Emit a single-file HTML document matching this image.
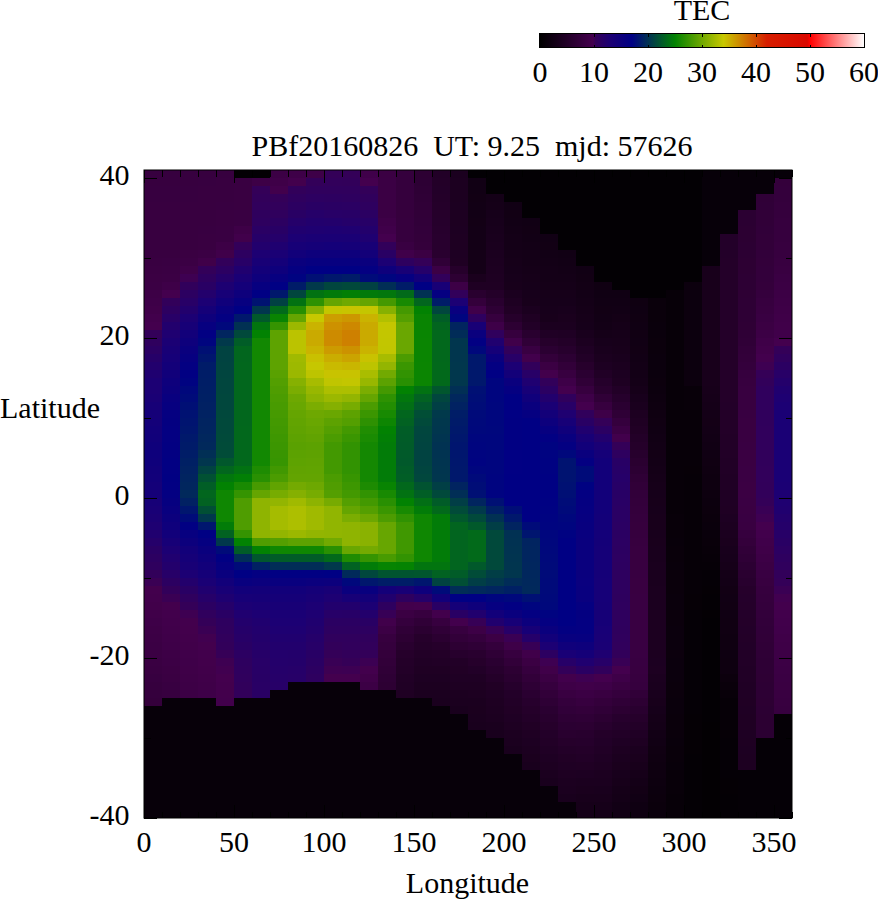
<!DOCTYPE html>
<html><head><meta charset="utf-8"><title>TEC map</title>
<style>
html,body{margin:0;padding:0;background:#fff;}
body{width:878px;height:900px;overflow:hidden;font-family:"Liberation Serif",serif;}
svg{display:block;}
text{font-family:"Liberation Serif",serif;font-size:30px;fill:#000;}
</style></head><body>
<svg width="878" height="900" viewBox="0 0 878 900">
<defs><linearGradient id="cb" x1="0" y1="0" x2="1" y2="0"><stop offset="0.0000" stop-color="#000000"/><stop offset="0.0833" stop-color="#220027"/><stop offset="0.1633" stop-color="#44004e"/><stop offset="0.1717" stop-color="#340058"/><stop offset="0.2167" stop-color="#1c0074"/><stop offset="0.2833" stop-color="#000084"/><stop offset="0.4167" stop-color="#028202"/><stop offset="0.5667" stop-color="#c8c800"/><stop offset="0.7000" stop-color="#d61e00"/><stop offset="0.8250" stop-color="#da0800"/><stop offset="0.8333" stop-color="#ff0000"/><stop offset="1.0000" stop-color="#ffffff"/></linearGradient></defs>
<rect x="0" y="0" width="878" height="900" fill="#fff"/>
<g shape-rendering="crispEdges">
<rect x="144" y="170.00" width="18.5" height="16.50" fill="#37003f"/>
<rect x="144" y="186.00" width="18.5" height="16.50" fill="#370040"/>
<rect x="144" y="202.00" width="18.5" height="56.50" fill="#380040"/>
<rect x="144" y="258.00" width="18.5" height="8.50" fill="#390041"/>
<rect x="144" y="266.00" width="18.5" height="8.50" fill="#3a0042"/>
<rect x="144" y="274.00" width="18.5" height="8.50" fill="#3b0043"/>
<rect x="144" y="282.00" width="18.5" height="8.50" fill="#3b0044"/>
<rect x="144" y="290.00" width="18.5" height="8.50" fill="#3d0046"/>
<rect x="144" y="298.00" width="18.5" height="8.50" fill="#3e0048"/>
<rect x="144" y="306.00" width="18.5" height="8.50" fill="#400049"/>
<rect x="144" y="314.00" width="18.5" height="8.50" fill="#42004c"/>
<rect x="144" y="322.00" width="18.5" height="8.50" fill="#44004e"/>
<rect x="144" y="330.00" width="18.5" height="8.50" fill="#330059"/>
<rect x="144" y="338.00" width="18.5" height="8.50" fill="#2f005e"/>
<rect x="144" y="346.00" width="18.5" height="8.50" fill="#2b0063"/>
<rect x="144" y="354.00" width="18.5" height="8.50" fill="#260068"/>
<rect x="144" y="362.00" width="18.5" height="8.50" fill="#22006d"/>
<rect x="144" y="370.00" width="18.5" height="8.50" fill="#1f0070"/>
<rect x="144" y="378.00" width="18.5" height="16.50" fill="#1c0074"/>
<rect x="144" y="394.00" width="18.5" height="8.50" fill="#1a0075"/>
<rect x="144" y="402.00" width="18.5" height="8.50" fill="#170077"/>
<rect x="144" y="410.00" width="18.5" height="8.50" fill="#150078"/>
<rect x="144" y="418.00" width="18.5" height="8.50" fill="#140079"/>
<rect x="144" y="426.00" width="18.5" height="8.50" fill="#12007a"/>
<rect x="144" y="434.00" width="18.5" height="8.50" fill="#11007a"/>
<rect x="144" y="442.00" width="18.5" height="8.50" fill="#0f007b"/>
<rect x="144" y="450.00" width="18.5" height="8.50" fill="#0e007c"/>
<rect x="144" y="458.00" width="18.5" height="8.50" fill="#0f007b"/>
<rect x="144" y="466.00" width="18.5" height="8.50" fill="#11007a"/>
<rect x="144" y="474.00" width="18.5" height="8.50" fill="#12007a"/>
<rect x="144" y="482.00" width="18.5" height="8.50" fill="#140079"/>
<rect x="144" y="490.00" width="18.5" height="8.50" fill="#150078"/>
<rect x="144" y="498.00" width="18.5" height="8.50" fill="#170077"/>
<rect x="144" y="506.00" width="18.5" height="8.50" fill="#190076"/>
<rect x="144" y="514.00" width="18.5" height="8.50" fill="#1b0074"/>
<rect x="144" y="522.00" width="18.5" height="8.50" fill="#1e0072"/>
<rect x="144" y="530.00" width="18.5" height="8.50" fill="#20006f"/>
<rect x="144" y="538.00" width="18.5" height="8.50" fill="#25006a"/>
<rect x="144" y="546.00" width="18.5" height="8.50" fill="#290064"/>
<rect x="144" y="554.00" width="18.5" height="8.50" fill="#2c0061"/>
<rect x="144" y="562.00" width="18.5" height="8.50" fill="#2f005e"/>
<rect x="144" y="570.00" width="18.5" height="8.50" fill="#32005a"/>
<rect x="144" y="578.00" width="18.5" height="8.50" fill="#3a0054"/>
<rect x="144" y="586.00" width="18.5" height="8.50" fill="#43004d"/>
<rect x="144" y="594.00" width="18.5" height="8.50" fill="#42004c"/>
<rect x="144" y="602.00" width="18.5" height="8.50" fill="#41004a"/>
<rect x="144" y="610.00" width="18.5" height="8.50" fill="#400049"/>
<rect x="144" y="618.00" width="18.5" height="8.50" fill="#3e0048"/>
<rect x="144" y="626.00" width="18.5" height="8.50" fill="#3d0046"/>
<rect x="144" y="634.00" width="18.5" height="8.50" fill="#3c0045"/>
<rect x="144" y="642.00" width="18.5" height="8.50" fill="#3b0044"/>
<rect x="144" y="650.00" width="18.5" height="8.50" fill="#3b0043"/>
<rect x="144" y="658.00" width="18.5" height="8.50" fill="#3a0042"/>
<rect x="144" y="666.00" width="18.5" height="8.50" fill="#390041"/>
<rect x="144" y="674.00" width="18.5" height="8.50" fill="#370040"/>
<rect x="144" y="682.00" width="18.5" height="8.50" fill="#36003e"/>
<rect x="144" y="690.00" width="18.5" height="8.50" fill="#35003d"/>
<rect x="144" y="698.00" width="18.5" height="8.50" fill="#34003b"/>
<rect x="144" y="706.00" width="18.5" height="112.00" fill="#070009"/>
<rect x="162" y="170.00" width="18.5" height="16.50" fill="#37003f"/>
<rect x="162" y="186.00" width="18.5" height="16.50" fill="#370040"/>
<rect x="162" y="202.00" width="18.5" height="56.50" fill="#380040"/>
<rect x="162" y="258.00" width="18.5" height="8.50" fill="#390042"/>
<rect x="162" y="266.00" width="18.5" height="8.50" fill="#3a0043"/>
<rect x="162" y="274.00" width="18.5" height="8.50" fill="#3b0044"/>
<rect x="162" y="282.00" width="18.5" height="8.50" fill="#3e0048"/>
<rect x="162" y="290.00" width="18.5" height="8.50" fill="#44004e"/>
<rect x="162" y="298.00" width="18.5" height="8.50" fill="#32005a"/>
<rect x="162" y="306.00" width="18.5" height="8.50" fill="#2d0060"/>
<rect x="162" y="314.00" width="18.5" height="8.50" fill="#280067"/>
<rect x="162" y="322.00" width="18.5" height="8.50" fill="#22006d"/>
<rect x="162" y="330.00" width="18.5" height="8.50" fill="#1f0071"/>
<rect x="162" y="338.00" width="18.5" height="8.50" fill="#1b0074"/>
<rect x="162" y="346.00" width="18.5" height="8.50" fill="#180076"/>
<rect x="162" y="354.00" width="18.5" height="8.50" fill="#160078"/>
<rect x="162" y="362.00" width="18.5" height="8.50" fill="#130079"/>
<rect x="162" y="370.00" width="18.5" height="8.50" fill="#11007a"/>
<rect x="162" y="378.00" width="18.5" height="8.50" fill="#0e007c"/>
<rect x="162" y="386.00" width="18.5" height="8.50" fill="#0c007d"/>
<rect x="162" y="394.00" width="18.5" height="8.50" fill="#09007f"/>
<rect x="162" y="402.00" width="18.5" height="8.50" fill="#070080"/>
<rect x="162" y="410.00" width="18.5" height="8.50" fill="#050081"/>
<rect x="162" y="418.00" width="18.5" height="8.50" fill="#040081"/>
<rect x="162" y="426.00" width="18.5" height="16.50" fill="#040082"/>
<rect x="162" y="442.00" width="18.5" height="16.50" fill="#030082"/>
<rect x="162" y="458.00" width="18.5" height="16.50" fill="#020083"/>
<rect x="162" y="474.00" width="18.5" height="8.50" fill="#010083"/>
<rect x="162" y="482.00" width="18.5" height="8.50" fill="#020083"/>
<rect x="162" y="490.00" width="18.5" height="8.50" fill="#040082"/>
<rect x="162" y="498.00" width="18.5" height="8.50" fill="#060080"/>
<rect x="162" y="506.00" width="18.5" height="8.50" fill="#09007f"/>
<rect x="162" y="514.00" width="18.5" height="8.50" fill="#0c007d"/>
<rect x="162" y="522.00" width="18.5" height="8.50" fill="#0f007c"/>
<rect x="162" y="530.00" width="18.5" height="8.50" fill="#12007a"/>
<rect x="162" y="538.00" width="18.5" height="8.50" fill="#170077"/>
<rect x="162" y="546.00" width="18.5" height="8.50" fill="#1c0074"/>
<rect x="162" y="554.00" width="18.5" height="8.50" fill="#200070"/>
<rect x="162" y="562.00" width="18.5" height="8.50" fill="#23006c"/>
<rect x="162" y="570.00" width="18.5" height="8.50" fill="#270068"/>
<rect x="162" y="578.00" width="18.5" height="8.50" fill="#2c0061"/>
<rect x="162" y="586.00" width="18.5" height="8.50" fill="#32005a"/>
<rect x="162" y="594.00" width="18.5" height="8.50" fill="#3a0054"/>
<rect x="162" y="602.00" width="18.5" height="8.50" fill="#43004d"/>
<rect x="162" y="610.00" width="18.5" height="8.50" fill="#42004c"/>
<rect x="162" y="618.00" width="18.5" height="8.50" fill="#41004b"/>
<rect x="162" y="626.00" width="18.5" height="8.50" fill="#40004a"/>
<rect x="162" y="634.00" width="18.5" height="8.50" fill="#3f0049"/>
<rect x="162" y="642.00" width="18.5" height="8.50" fill="#3e0048"/>
<rect x="162" y="650.00" width="18.5" height="8.50" fill="#3d0046"/>
<rect x="162" y="658.00" width="18.5" height="8.50" fill="#3c0045"/>
<rect x="162" y="666.00" width="18.5" height="8.50" fill="#3b0043"/>
<rect x="162" y="674.00" width="18.5" height="8.50" fill="#3a0042"/>
<rect x="162" y="682.00" width="18.5" height="8.50" fill="#380041"/>
<rect x="162" y="690.00" width="18.5" height="8.50" fill="#37003f"/>
<rect x="162" y="698.00" width="18.5" height="120.00" fill="#070009"/>
<rect x="180" y="170.00" width="18.5" height="16.50" fill="#37003f"/>
<rect x="180" y="186.00" width="18.5" height="16.50" fill="#370040"/>
<rect x="180" y="202.00" width="18.5" height="48.50" fill="#380040"/>
<rect x="180" y="250.00" width="18.5" height="8.50" fill="#3a0042"/>
<rect x="180" y="258.00" width="18.5" height="8.50" fill="#3b0044"/>
<rect x="180" y="266.00" width="18.5" height="8.50" fill="#3e0048"/>
<rect x="180" y="274.00" width="18.5" height="8.50" fill="#3e0052"/>
<rect x="180" y="282.00" width="18.5" height="8.50" fill="#31005b"/>
<rect x="180" y="290.00" width="18.5" height="8.50" fill="#2c0061"/>
<rect x="180" y="298.00" width="18.5" height="8.50" fill="#280067"/>
<rect x="180" y="306.00" width="18.5" height="8.50" fill="#22006d"/>
<rect x="180" y="314.00" width="18.5" height="8.50" fill="#1c0074"/>
<rect x="180" y="322.00" width="18.5" height="8.50" fill="#170077"/>
<rect x="180" y="330.00" width="18.5" height="8.50" fill="#12007a"/>
<rect x="180" y="338.00" width="18.5" height="8.50" fill="#0e007c"/>
<rect x="180" y="346.00" width="18.5" height="8.50" fill="#0a007e"/>
<rect x="180" y="354.00" width="18.5" height="8.50" fill="#070080"/>
<rect x="180" y="362.00" width="18.5" height="8.50" fill="#040082"/>
<rect x="180" y="370.00" width="18.5" height="8.50" fill="#010083"/>
<rect x="180" y="378.00" width="18.5" height="8.50" fill="#000381"/>
<rect x="180" y="386.00" width="18.5" height="8.50" fill="#00087c"/>
<rect x="180" y="394.00" width="18.5" height="8.50" fill="#000b79"/>
<rect x="180" y="402.00" width="18.5" height="8.50" fill="#000f75"/>
<rect x="180" y="410.00" width="18.5" height="8.50" fill="#001272"/>
<rect x="180" y="418.00" width="18.5" height="8.50" fill="#001470"/>
<rect x="180" y="426.00" width="18.5" height="8.50" fill="#00166e"/>
<rect x="180" y="434.00" width="18.5" height="8.50" fill="#00196b"/>
<rect x="180" y="442.00" width="18.5" height="8.50" fill="#001b69"/>
<rect x="180" y="450.00" width="18.5" height="8.50" fill="#001d67"/>
<rect x="180" y="458.00" width="18.5" height="8.50" fill="#002064"/>
<rect x="180" y="466.00" width="18.5" height="8.50" fill="#012262"/>
<rect x="180" y="474.00" width="18.5" height="8.50" fill="#012460"/>
<rect x="180" y="482.00" width="18.5" height="8.50" fill="#01265e"/>
<rect x="180" y="490.00" width="18.5" height="8.50" fill="#01295b"/>
<rect x="180" y="498.00" width="18.5" height="8.50" fill="#012163"/>
<rect x="180" y="506.00" width="18.5" height="8.50" fill="#00166e"/>
<rect x="180" y="514.00" width="18.5" height="8.50" fill="#000b79"/>
<rect x="180" y="522.00" width="18.5" height="8.50" fill="#010083"/>
<rect x="180" y="530.00" width="18.5" height="8.50" fill="#070080"/>
<rect x="180" y="538.00" width="18.5" height="8.50" fill="#0c007d"/>
<rect x="180" y="546.00" width="18.5" height="8.50" fill="#12007a"/>
<rect x="180" y="554.00" width="18.5" height="8.50" fill="#150078"/>
<rect x="180" y="562.00" width="18.5" height="8.50" fill="#180076"/>
<rect x="180" y="570.00" width="18.5" height="8.50" fill="#1c0074"/>
<rect x="180" y="578.00" width="18.5" height="8.50" fill="#23006c"/>
<rect x="180" y="586.00" width="18.5" height="8.50" fill="#290064"/>
<rect x="180" y="594.00" width="18.5" height="8.50" fill="#2f005e"/>
<rect x="180" y="602.00" width="18.5" height="8.50" fill="#340058"/>
<rect x="180" y="610.00" width="18.5" height="8.50" fill="#3e0052"/>
<rect x="180" y="618.00" width="18.5" height="8.50" fill="#43004d"/>
<rect x="180" y="626.00" width="18.5" height="8.50" fill="#43004c"/>
<rect x="180" y="634.00" width="18.5" height="8.50" fill="#42004b"/>
<rect x="180" y="642.00" width="18.5" height="8.50" fill="#41004a"/>
<rect x="180" y="650.00" width="18.5" height="8.50" fill="#40004a"/>
<rect x="180" y="658.00" width="18.5" height="8.50" fill="#3f0049"/>
<rect x="180" y="666.00" width="18.5" height="8.50" fill="#3f0048"/>
<rect x="180" y="674.00" width="18.5" height="8.50" fill="#3e0047"/>
<rect x="180" y="682.00" width="18.5" height="8.50" fill="#3d0046"/>
<rect x="180" y="690.00" width="18.5" height="8.50" fill="#3c0045"/>
<rect x="180" y="698.00" width="18.5" height="120.00" fill="#070009"/>
<rect x="198" y="170.00" width="18.5" height="8.50" fill="#37003f"/>
<rect x="198" y="178.00" width="18.5" height="8.50" fill="#370040"/>
<rect x="198" y="186.00" width="18.5" height="40.50" fill="#380040"/>
<rect x="198" y="226.00" width="18.5" height="8.50" fill="#380041"/>
<rect x="198" y="234.00" width="18.5" height="16.50" fill="#390041"/>
<rect x="198" y="250.00" width="18.5" height="8.50" fill="#3b0044"/>
<rect x="198" y="258.00" width="18.5" height="8.50" fill="#400049"/>
<rect x="198" y="266.00" width="18.5" height="8.50" fill="#330059"/>
<rect x="198" y="274.00" width="18.5" height="8.50" fill="#2e005f"/>
<rect x="198" y="282.00" width="18.5" height="8.50" fill="#290064"/>
<rect x="198" y="290.00" width="18.5" height="8.50" fill="#23006c"/>
<rect x="198" y="298.00" width="18.5" height="8.50" fill="#1c0074"/>
<rect x="198" y="306.00" width="18.5" height="8.50" fill="#150078"/>
<rect x="198" y="314.00" width="18.5" height="8.50" fill="#0e007c"/>
<rect x="198" y="322.00" width="18.5" height="8.50" fill="#070080"/>
<rect x="198" y="330.00" width="18.5" height="8.50" fill="#020083"/>
<rect x="198" y="338.00" width="18.5" height="8.50" fill="#00057f"/>
<rect x="198" y="346.00" width="18.5" height="8.50" fill="#001074"/>
<rect x="198" y="354.00" width="18.5" height="8.50" fill="#00166e"/>
<rect x="198" y="362.00" width="18.5" height="8.50" fill="#001c68"/>
<rect x="198" y="370.00" width="18.5" height="8.50" fill="#001d67"/>
<rect x="198" y="378.00" width="18.5" height="8.50" fill="#001e66"/>
<rect x="198" y="386.00" width="18.5" height="8.50" fill="#001f65"/>
<rect x="198" y="394.00" width="18.5" height="8.50" fill="#002064"/>
<rect x="198" y="402.00" width="18.5" height="8.50" fill="#012163"/>
<rect x="198" y="410.00" width="18.5" height="8.50" fill="#012262"/>
<rect x="198" y="418.00" width="18.5" height="8.50" fill="#012460"/>
<rect x="198" y="426.00" width="18.5" height="8.50" fill="#01255f"/>
<rect x="198" y="434.00" width="18.5" height="8.50" fill="#01275d"/>
<rect x="198" y="442.00" width="18.5" height="8.50" fill="#01295b"/>
<rect x="198" y="450.00" width="18.5" height="8.50" fill="#012f55"/>
<rect x="198" y="458.00" width="18.5" height="8.50" fill="#01364e"/>
<rect x="198" y="466.00" width="18.5" height="8.50" fill="#014341"/>
<rect x="198" y="474.00" width="18.5" height="8.50" fill="#015133"/>
<rect x="198" y="482.00" width="18.5" height="8.50" fill="#015e26"/>
<rect x="198" y="490.00" width="18.5" height="8.50" fill="#02661e"/>
<rect x="198" y="498.00" width="18.5" height="8.50" fill="#026222"/>
<rect x="198" y="506.00" width="18.5" height="8.50" fill="#014f35"/>
<rect x="198" y="514.00" width="18.5" height="8.50" fill="#01384c"/>
<rect x="198" y="522.00" width="18.5" height="8.50" fill="#00166e"/>
<rect x="198" y="530.00" width="18.5" height="8.50" fill="#000084"/>
<rect x="198" y="538.00" width="18.5" height="8.50" fill="#050081"/>
<rect x="198" y="546.00" width="18.5" height="8.50" fill="#0a007e"/>
<rect x="198" y="554.00" width="18.5" height="8.50" fill="#0e007c"/>
<rect x="198" y="562.00" width="18.5" height="8.50" fill="#12007a"/>
<rect x="198" y="570.00" width="18.5" height="8.50" fill="#150078"/>
<rect x="198" y="578.00" width="18.5" height="8.50" fill="#1a0075"/>
<rect x="198" y="586.00" width="18.5" height="8.50" fill="#20006f"/>
<rect x="198" y="594.00" width="18.5" height="8.50" fill="#260069"/>
<rect x="198" y="602.00" width="18.5" height="8.50" fill="#2b0062"/>
<rect x="198" y="610.00" width="18.5" height="8.50" fill="#30005d"/>
<rect x="198" y="618.00" width="18.5" height="8.50" fill="#340058"/>
<rect x="198" y="626.00" width="18.5" height="8.50" fill="#3a0054"/>
<rect x="198" y="634.00" width="18.5" height="8.50" fill="#410050"/>
<rect x="198" y="642.00" width="18.5" height="8.50" fill="#43004d"/>
<rect x="198" y="650.00" width="18.5" height="8.50" fill="#42004c"/>
<rect x="198" y="658.00" width="18.5" height="8.50" fill="#42004b"/>
<rect x="198" y="666.00" width="18.5" height="8.50" fill="#41004a"/>
<rect x="198" y="674.00" width="18.5" height="8.50" fill="#400049"/>
<rect x="198" y="682.00" width="18.5" height="8.50" fill="#3f0048"/>
<rect x="198" y="690.00" width="18.5" height="8.50" fill="#3e0048"/>
<rect x="198" y="698.00" width="18.5" height="120.00" fill="#070009"/>
<rect x="216" y="170.00" width="18.5" height="8.50" fill="#37003f"/>
<rect x="216" y="178.00" width="18.5" height="24.50" fill="#380040"/>
<rect x="216" y="202.00" width="18.5" height="8.50" fill="#380041"/>
<rect x="216" y="210.00" width="18.5" height="16.50" fill="#390041"/>
<rect x="216" y="226.00" width="18.5" height="16.50" fill="#390042"/>
<rect x="216" y="242.00" width="18.5" height="8.50" fill="#3d0046"/>
<rect x="216" y="250.00" width="18.5" height="8.50" fill="#40004a"/>
<rect x="216" y="258.00" width="18.5" height="8.50" fill="#32005a"/>
<rect x="216" y="266.00" width="18.5" height="8.50" fill="#2c0062"/>
<rect x="216" y="274.00" width="18.5" height="8.50" fill="#25006a"/>
<rect x="216" y="282.00" width="18.5" height="8.50" fill="#1d0072"/>
<rect x="216" y="290.00" width="18.5" height="8.50" fill="#170077"/>
<rect x="216" y="298.00" width="18.5" height="8.50" fill="#10007b"/>
<rect x="216" y="306.00" width="18.5" height="8.50" fill="#09007f"/>
<rect x="216" y="314.00" width="18.5" height="8.50" fill="#040082"/>
<rect x="216" y="322.00" width="18.5" height="8.50" fill="#00087c"/>
<rect x="216" y="330.00" width="18.5" height="8.50" fill="#01255f"/>
<rect x="216" y="338.00" width="18.5" height="8.50" fill="#01394b"/>
<rect x="216" y="346.00" width="18.5" height="16.50" fill="#014341"/>
<rect x="216" y="362.00" width="18.5" height="8.50" fill="#014440"/>
<rect x="216" y="370.00" width="18.5" height="8.50" fill="#01453f"/>
<rect x="216" y="378.00" width="18.5" height="16.50" fill="#01463e"/>
<rect x="216" y="394.00" width="18.5" height="16.50" fill="#01473d"/>
<rect x="216" y="410.00" width="18.5" height="8.50" fill="#01483c"/>
<rect x="216" y="418.00" width="18.5" height="16.50" fill="#01493b"/>
<rect x="216" y="434.00" width="18.5" height="8.50" fill="#014a3a"/>
<rect x="216" y="442.00" width="18.5" height="8.50" fill="#014b39"/>
<rect x="216" y="450.00" width="18.5" height="8.50" fill="#014c38"/>
<rect x="216" y="458.00" width="18.5" height="8.50" fill="#01582c"/>
<rect x="216" y="466.00" width="18.5" height="8.50" fill="#02661e"/>
<rect x="216" y="474.00" width="18.5" height="8.50" fill="#02770d"/>
<rect x="216" y="482.00" width="18.5" height="8.50" fill="#028202"/>
<rect x="216" y="490.00" width="18.5" height="32.50" fill="#0f8702"/>
<rect x="216" y="522.00" width="18.5" height="8.50" fill="#027c08"/>
<rect x="216" y="530.00" width="18.5" height="8.50" fill="#026222"/>
<rect x="216" y="538.00" width="18.5" height="8.50" fill="#01384c"/>
<rect x="216" y="546.00" width="18.5" height="8.50" fill="#000b79"/>
<rect x="216" y="554.00" width="18.5" height="8.50" fill="#010083"/>
<rect x="216" y="562.00" width="18.5" height="8.50" fill="#060081"/>
<rect x="216" y="570.00" width="18.5" height="8.50" fill="#0a007e"/>
<rect x="216" y="578.00" width="18.5" height="8.50" fill="#12007a"/>
<rect x="216" y="586.00" width="18.5" height="8.50" fill="#180076"/>
<rect x="216" y="594.00" width="18.5" height="8.50" fill="#1e0071"/>
<rect x="216" y="602.00" width="18.5" height="8.50" fill="#25006a"/>
<rect x="216" y="610.00" width="18.5" height="8.50" fill="#290064"/>
<rect x="216" y="618.00" width="18.5" height="8.50" fill="#2e005f"/>
<rect x="216" y="626.00" width="18.5" height="8.50" fill="#2f005e"/>
<rect x="216" y="634.00" width="18.5" height="8.50" fill="#31005c"/>
<rect x="216" y="642.00" width="18.5" height="8.50" fill="#32005a"/>
<rect x="216" y="650.00" width="18.5" height="8.50" fill="#360057"/>
<rect x="216" y="658.00" width="18.5" height="8.50" fill="#3e0052"/>
<rect x="216" y="666.00" width="18.5" height="8.50" fill="#410050"/>
<rect x="216" y="674.00" width="18.5" height="8.50" fill="#44004e"/>
<rect x="216" y="682.00" width="18.5" height="8.50" fill="#43004d"/>
<rect x="216" y="690.00" width="18.5" height="8.50" fill="#43004c"/>
<rect x="216" y="698.00" width="18.5" height="8.50" fill="#42004c"/>
<rect x="216" y="706.00" width="18.5" height="112.00" fill="#070009"/>
<rect x="234" y="170.00" width="18.5" height="8.50" fill="#030004"/>
<rect x="234" y="178.00" width="18.5" height="32.50" fill="#390041"/>
<rect x="234" y="210.00" width="18.5" height="16.50" fill="#390042"/>
<rect x="234" y="226.00" width="18.5" height="8.50" fill="#3e0047"/>
<rect x="234" y="234.00" width="18.5" height="8.50" fill="#41004b"/>
<rect x="234" y="242.00" width="18.5" height="8.50" fill="#330059"/>
<rect x="234" y="250.00" width="18.5" height="8.50" fill="#2d0060"/>
<rect x="234" y="258.00" width="18.5" height="8.50" fill="#280067"/>
<rect x="234" y="266.00" width="18.5" height="8.50" fill="#20006f"/>
<rect x="234" y="274.00" width="18.5" height="8.50" fill="#1a0075"/>
<rect x="234" y="282.00" width="18.5" height="8.50" fill="#140079"/>
<rect x="234" y="290.00" width="18.5" height="8.50" fill="#0e007c"/>
<rect x="234" y="298.00" width="18.5" height="8.50" fill="#070080"/>
<rect x="234" y="306.00" width="18.5" height="8.50" fill="#000084"/>
<rect x="234" y="314.00" width="18.5" height="8.50" fill="#00186c"/>
<rect x="234" y="322.00" width="18.5" height="8.50" fill="#013153"/>
<rect x="234" y="330.00" width="18.5" height="8.50" fill="#01493b"/>
<rect x="234" y="338.00" width="18.5" height="8.50" fill="#015d27"/>
<rect x="234" y="346.00" width="18.5" height="16.50" fill="#02661e"/>
<rect x="234" y="362.00" width="18.5" height="64.50" fill="#02671d"/>
<rect x="234" y="426.00" width="18.5" height="40.50" fill="#02681c"/>
<rect x="234" y="466.00" width="18.5" height="8.50" fill="#027212"/>
<rect x="234" y="474.00" width="18.5" height="8.50" fill="#027f05"/>
<rect x="234" y="482.00" width="18.5" height="8.50" fill="#198a02"/>
<rect x="234" y="490.00" width="18.5" height="8.50" fill="#359401"/>
<rect x="234" y="498.00" width="18.5" height="32.50" fill="#4f9d01"/>
<rect x="234" y="530.00" width="18.5" height="8.50" fill="#359401"/>
<rect x="234" y="538.00" width="18.5" height="8.50" fill="#028202"/>
<rect x="234" y="546.00" width="18.5" height="8.50" fill="#015c28"/>
<rect x="234" y="554.00" width="18.5" height="8.50" fill="#012d57"/>
<rect x="234" y="562.00" width="18.5" height="8.50" fill="#000b79"/>
<rect x="234" y="570.00" width="18.5" height="8.50" fill="#000084"/>
<rect x="234" y="578.00" width="18.5" height="8.50" fill="#09007f"/>
<rect x="234" y="586.00" width="18.5" height="8.50" fill="#12007a"/>
<rect x="234" y="594.00" width="18.5" height="8.50" fill="#170077"/>
<rect x="234" y="602.00" width="18.5" height="8.50" fill="#1c0074"/>
<rect x="234" y="610.00" width="18.5" height="8.50" fill="#200070"/>
<rect x="234" y="618.00" width="18.5" height="8.50" fill="#23006c"/>
<rect x="234" y="626.00" width="18.5" height="8.50" fill="#250069"/>
<rect x="234" y="634.00" width="18.5" height="8.50" fill="#270067"/>
<rect x="234" y="642.00" width="18.5" height="8.50" fill="#290064"/>
<rect x="234" y="650.00" width="18.5" height="8.50" fill="#2c0062"/>
<rect x="234" y="658.00" width="18.5" height="8.50" fill="#2e005f"/>
<rect x="234" y="666.00" width="18.5" height="8.50" fill="#2f005e"/>
<rect x="234" y="674.00" width="18.5" height="8.50" fill="#30005d"/>
<rect x="234" y="682.00" width="18.5" height="8.50" fill="#31005b"/>
<rect x="234" y="690.00" width="18.5" height="8.50" fill="#32005a"/>
<rect x="234" y="698.00" width="18.5" height="120.00" fill="#070009"/>
<rect x="252" y="170.00" width="18.5" height="8.50" fill="#030004"/>
<rect x="252" y="178.00" width="18.5" height="8.50" fill="#3d0046"/>
<rect x="252" y="186.00" width="18.5" height="8.50" fill="#340058"/>
<rect x="252" y="194.00" width="18.5" height="8.50" fill="#32005a"/>
<rect x="252" y="202.00" width="18.5" height="8.50" fill="#31005c"/>
<rect x="252" y="210.00" width="18.5" height="8.50" fill="#2f005d"/>
<rect x="252" y="218.00" width="18.5" height="8.50" fill="#2e005f"/>
<rect x="252" y="226.00" width="18.5" height="8.50" fill="#2a0064"/>
<rect x="252" y="234.00" width="18.5" height="8.50" fill="#260068"/>
<rect x="252" y="242.00" width="18.5" height="8.50" fill="#22006d"/>
<rect x="252" y="250.00" width="18.5" height="8.50" fill="#1d0073"/>
<rect x="252" y="258.00" width="18.5" height="8.50" fill="#180076"/>
<rect x="252" y="266.00" width="18.5" height="8.50" fill="#130079"/>
<rect x="252" y="274.00" width="18.5" height="8.50" fill="#0e007c"/>
<rect x="252" y="282.00" width="18.5" height="8.50" fill="#070080"/>
<rect x="252" y="290.00" width="18.5" height="8.50" fill="#000084"/>
<rect x="252" y="298.00" width="18.5" height="8.50" fill="#001371"/>
<rect x="252" y="306.00" width="18.5" height="8.50" fill="#01364e"/>
<rect x="252" y="314.00" width="18.5" height="8.50" fill="#01592b"/>
<rect x="252" y="322.00" width="18.5" height="8.50" fill="#02750f"/>
<rect x="252" y="330.00" width="18.5" height="8.50" fill="#028202"/>
<rect x="252" y="338.00" width="18.5" height="128.50" fill="#128802"/>
<rect x="252" y="466.00" width="18.5" height="8.50" fill="#1e8c02"/>
<rect x="252" y="474.00" width="18.5" height="8.50" fill="#299002"/>
<rect x="252" y="482.00" width="18.5" height="8.50" fill="#479a01"/>
<rect x="252" y="490.00" width="18.5" height="8.50" fill="#65a501"/>
<rect x="252" y="498.00" width="18.5" height="40.50" fill="#8fb401"/>
<rect x="252" y="538.00" width="18.5" height="8.50" fill="#4f9d01"/>
<rect x="252" y="546.00" width="18.5" height="8.50" fill="#028202"/>
<rect x="252" y="554.00" width="18.5" height="8.50" fill="#01562e"/>
<rect x="252" y="562.00" width="18.5" height="8.50" fill="#012163"/>
<rect x="252" y="570.00" width="18.5" height="8.50" fill="#040082"/>
<rect x="252" y="578.00" width="18.5" height="8.50" fill="#0b007e"/>
<rect x="252" y="586.00" width="18.5" height="8.50" fill="#130079"/>
<rect x="252" y="594.00" width="18.5" height="8.50" fill="#160077"/>
<rect x="252" y="602.00" width="18.5" height="8.50" fill="#1a0075"/>
<rect x="252" y="610.00" width="18.5" height="8.50" fill="#1d0073"/>
<rect x="252" y="618.00" width="18.5" height="8.50" fill="#20006f"/>
<rect x="252" y="626.00" width="18.5" height="8.50" fill="#22006d"/>
<rect x="252" y="634.00" width="18.5" height="8.50" fill="#23006b"/>
<rect x="252" y="642.00" width="18.5" height="8.50" fill="#25006a"/>
<rect x="252" y="650.00" width="18.5" height="8.50" fill="#260068"/>
<rect x="252" y="658.00" width="18.5" height="8.50" fill="#280067"/>
<rect x="252" y="666.00" width="18.5" height="8.50" fill="#280066"/>
<rect x="252" y="674.00" width="18.5" height="8.50" fill="#280065"/>
<rect x="252" y="682.00" width="18.5" height="8.50" fill="#290065"/>
<rect x="252" y="690.00" width="18.5" height="8.50" fill="#290064"/>
<rect x="252" y="698.00" width="18.5" height="120.00" fill="#070009"/>
<rect x="270" y="170.00" width="18.5" height="8.50" fill="#3c0045"/>
<rect x="270" y="178.00" width="18.5" height="8.50" fill="#3f0048"/>
<rect x="270" y="186.00" width="18.5" height="8.50" fill="#42004c"/>
<rect x="270" y="194.00" width="18.5" height="8.50" fill="#340058"/>
<rect x="270" y="202.00" width="18.5" height="8.50" fill="#32005b"/>
<rect x="270" y="210.00" width="18.5" height="8.50" fill="#30005d"/>
<rect x="270" y="218.00" width="18.5" height="8.50" fill="#2c0061"/>
<rect x="270" y="226.00" width="18.5" height="8.50" fill="#280065"/>
<rect x="270" y="234.00" width="18.5" height="8.50" fill="#25006a"/>
<rect x="270" y="242.00" width="18.5" height="8.50" fill="#1f0070"/>
<rect x="270" y="250.00" width="18.5" height="8.50" fill="#1a0075"/>
<rect x="270" y="258.00" width="18.5" height="8.50" fill="#140079"/>
<rect x="270" y="266.00" width="18.5" height="8.50" fill="#0e007c"/>
<rect x="270" y="274.00" width="18.5" height="8.50" fill="#070080"/>
<rect x="270" y="282.00" width="18.5" height="8.50" fill="#000084"/>
<rect x="270" y="290.00" width="18.5" height="8.50" fill="#00186c"/>
<rect x="270" y="298.00" width="18.5" height="8.50" fill="#014143"/>
<rect x="270" y="306.00" width="18.5" height="8.50" fill="#026a1a"/>
<rect x="270" y="314.00" width="18.5" height="8.50" fill="#098402"/>
<rect x="270" y="322.00" width="18.5" height="8.50" fill="#359401"/>
<rect x="270" y="330.00" width="18.5" height="40.50" fill="#5ea301"/>
<rect x="270" y="370.00" width="18.5" height="8.50" fill="#59a101"/>
<rect x="270" y="378.00" width="18.5" height="8.50" fill="#539f01"/>
<rect x="270" y="386.00" width="18.5" height="8.50" fill="#4f9d01"/>
<rect x="270" y="394.00" width="18.5" height="8.50" fill="#4b9c01"/>
<rect x="270" y="402.00" width="18.5" height="8.50" fill="#489b01"/>
<rect x="270" y="410.00" width="18.5" height="8.50" fill="#469a01"/>
<rect x="270" y="418.00" width="18.5" height="8.50" fill="#439901"/>
<rect x="270" y="426.00" width="18.5" height="8.50" fill="#419801"/>
<rect x="270" y="434.00" width="18.5" height="8.50" fill="#3e9701"/>
<rect x="270" y="442.00" width="18.5" height="8.50" fill="#3c9601"/>
<rect x="270" y="450.00" width="18.5" height="8.50" fill="#399501"/>
<rect x="270" y="458.00" width="18.5" height="8.50" fill="#379501"/>
<rect x="270" y="466.00" width="18.5" height="8.50" fill="#419801"/>
<rect x="270" y="474.00" width="18.5" height="8.50" fill="#4b9c01"/>
<rect x="270" y="482.00" width="18.5" height="8.50" fill="#61a401"/>
<rect x="270" y="490.00" width="18.5" height="8.50" fill="#77ac01"/>
<rect x="270" y="498.00" width="18.5" height="8.50" fill="#93b501"/>
<rect x="270" y="506.00" width="18.5" height="24.50" fill="#a5bc00"/>
<rect x="270" y="530.00" width="18.5" height="8.50" fill="#93b501"/>
<rect x="270" y="538.00" width="18.5" height="8.50" fill="#549f01"/>
<rect x="270" y="546.00" width="18.5" height="8.50" fill="#0f8702"/>
<rect x="270" y="554.00" width="18.5" height="8.50" fill="#015c28"/>
<rect x="270" y="562.00" width="18.5" height="8.50" fill="#012d57"/>
<rect x="270" y="570.00" width="18.5" height="8.50" fill="#010083"/>
<rect x="270" y="578.00" width="18.5" height="8.50" fill="#09007f"/>
<rect x="270" y="586.00" width="18.5" height="8.50" fill="#12007a"/>
<rect x="270" y="594.00" width="18.5" height="8.50" fill="#150078"/>
<rect x="270" y="602.00" width="18.5" height="8.50" fill="#180076"/>
<rect x="270" y="610.00" width="18.5" height="8.50" fill="#1a0075"/>
<rect x="270" y="618.00" width="18.5" height="8.50" fill="#1c0074"/>
<rect x="270" y="626.00" width="18.5" height="8.50" fill="#1e0072"/>
<rect x="270" y="634.00" width="18.5" height="8.50" fill="#20006f"/>
<rect x="270" y="642.00" width="18.5" height="8.50" fill="#22006d"/>
<rect x="270" y="650.00" width="18.5" height="8.50" fill="#23006c"/>
<rect x="270" y="658.00" width="18.5" height="8.50" fill="#24006b"/>
<rect x="270" y="666.00" width="18.5" height="8.50" fill="#25006a"/>
<rect x="270" y="674.00" width="18.5" height="8.50" fill="#260069"/>
<rect x="270" y="682.00" width="18.5" height="8.50" fill="#270068"/>
<rect x="270" y="690.00" width="18.5" height="128.00" fill="#070009"/>
<rect x="288" y="170.00" width="18.5" height="8.50" fill="#3e0048"/>
<rect x="288" y="178.00" width="18.5" height="8.50" fill="#43004d"/>
<rect x="288" y="186.00" width="18.5" height="8.50" fill="#32005a"/>
<rect x="288" y="194.00" width="18.5" height="8.50" fill="#2f005e"/>
<rect x="288" y="202.00" width="18.5" height="8.50" fill="#2c0061"/>
<rect x="288" y="210.00" width="18.5" height="8.50" fill="#290064"/>
<rect x="288" y="218.00" width="18.5" height="8.50" fill="#25006a"/>
<rect x="288" y="226.00" width="18.5" height="8.50" fill="#20006f"/>
<rect x="288" y="234.00" width="18.5" height="8.50" fill="#1c0074"/>
<rect x="288" y="242.00" width="18.5" height="8.50" fill="#170077"/>
<rect x="288" y="250.00" width="18.5" height="8.50" fill="#12007a"/>
<rect x="288" y="258.00" width="18.5" height="8.50" fill="#0a007e"/>
<rect x="288" y="266.00" width="18.5" height="8.50" fill="#050081"/>
<rect x="288" y="274.00" width="18.5" height="8.50" fill="#000381"/>
<rect x="288" y="282.00" width="18.5" height="8.50" fill="#001c68"/>
<rect x="288" y="290.00" width="18.5" height="8.50" fill="#01463e"/>
<rect x="288" y="298.00" width="18.5" height="8.50" fill="#027212"/>
<rect x="288" y="306.00" width="18.5" height="8.50" fill="#278f02"/>
<rect x="288" y="314.00" width="18.5" height="8.50" fill="#65a501"/>
<rect x="288" y="322.00" width="18.5" height="8.50" fill="#9cb800"/>
<rect x="288" y="330.00" width="18.5" height="24.50" fill="#bbc300"/>
<rect x="288" y="354.00" width="18.5" height="8.50" fill="#a0ba00"/>
<rect x="288" y="362.00" width="18.5" height="8.50" fill="#9db900"/>
<rect x="288" y="370.00" width="18.5" height="8.50" fill="#9bb800"/>
<rect x="288" y="378.00" width="18.5" height="8.50" fill="#86b101"/>
<rect x="288" y="386.00" width="18.5" height="8.50" fill="#7bad01"/>
<rect x="288" y="394.00" width="18.5" height="8.50" fill="#6ea801"/>
<rect x="288" y="402.00" width="18.5" height="8.50" fill="#69a701"/>
<rect x="288" y="410.00" width="18.5" height="8.50" fill="#65a501"/>
<rect x="288" y="418.00" width="18.5" height="8.50" fill="#62a401"/>
<rect x="288" y="426.00" width="18.5" height="8.50" fill="#60a301"/>
<rect x="288" y="434.00" width="18.5" height="8.50" fill="#5da201"/>
<rect x="288" y="442.00" width="18.5" height="8.50" fill="#5aa101"/>
<rect x="288" y="450.00" width="18.5" height="8.50" fill="#5ca201"/>
<rect x="288" y="458.00" width="18.5" height="8.50" fill="#5ea301"/>
<rect x="288" y="466.00" width="18.5" height="8.50" fill="#61a301"/>
<rect x="288" y="474.00" width="18.5" height="8.50" fill="#63a401"/>
<rect x="288" y="482.00" width="18.5" height="8.50" fill="#74aa01"/>
<rect x="288" y="490.00" width="18.5" height="8.50" fill="#85b001"/>
<rect x="288" y="498.00" width="18.5" height="8.50" fill="#a0ba00"/>
<rect x="288" y="506.00" width="18.5" height="24.50" fill="#adbf00"/>
<rect x="288" y="530.00" width="18.5" height="8.50" fill="#9bb800"/>
<rect x="288" y="538.00" width="18.5" height="8.50" fill="#5da201"/>
<rect x="288" y="546.00" width="18.5" height="8.50" fill="#0f8702"/>
<rect x="288" y="554.00" width="18.5" height="8.50" fill="#015c28"/>
<rect x="288" y="562.00" width="18.5" height="8.50" fill="#012d57"/>
<rect x="288" y="570.00" width="18.5" height="8.50" fill="#010083"/>
<rect x="288" y="578.00" width="18.5" height="8.50" fill="#09007f"/>
<rect x="288" y="586.00" width="18.5" height="8.50" fill="#12007a"/>
<rect x="288" y="594.00" width="18.5" height="8.50" fill="#150078"/>
<rect x="288" y="602.00" width="18.5" height="8.50" fill="#180076"/>
<rect x="288" y="610.00" width="18.5" height="8.50" fill="#1a0075"/>
<rect x="288" y="618.00" width="18.5" height="8.50" fill="#1c0074"/>
<rect x="288" y="626.00" width="18.5" height="8.50" fill="#1e0072"/>
<rect x="288" y="634.00" width="18.5" height="8.50" fill="#20006f"/>
<rect x="288" y="642.00" width="18.5" height="8.50" fill="#22006d"/>
<rect x="288" y="650.00" width="18.5" height="8.50" fill="#23006b"/>
<rect x="288" y="658.00" width="18.5" height="8.50" fill="#24006a"/>
<rect x="288" y="666.00" width="18.5" height="8.50" fill="#260069"/>
<rect x="288" y="674.00" width="18.5" height="8.50" fill="#270068"/>
<rect x="288" y="682.00" width="18.5" height="136.00" fill="#070009"/>
<rect x="306" y="170.00" width="18.5" height="8.50" fill="#3e0048"/>
<rect x="306" y="178.00" width="18.5" height="8.50" fill="#330059"/>
<rect x="306" y="186.00" width="18.5" height="8.50" fill="#30005d"/>
<rect x="306" y="194.00" width="18.5" height="8.50" fill="#2d0061"/>
<rect x="306" y="202.00" width="18.5" height="8.50" fill="#290064"/>
<rect x="306" y="210.00" width="18.5" height="8.50" fill="#260069"/>
<rect x="306" y="218.00" width="18.5" height="8.50" fill="#22006d"/>
<rect x="306" y="226.00" width="18.5" height="8.50" fill="#1f0071"/>
<rect x="306" y="234.00" width="18.5" height="8.50" fill="#1a0075"/>
<rect x="306" y="242.00" width="18.5" height="8.50" fill="#150078"/>
<rect x="306" y="250.00" width="18.5" height="8.50" fill="#0e007c"/>
<rect x="306" y="258.00" width="18.5" height="8.50" fill="#070080"/>
<rect x="306" y="266.00" width="18.5" height="8.50" fill="#000084"/>
<rect x="306" y="274.00" width="18.5" height="8.50" fill="#001074"/>
<rect x="306" y="282.00" width="18.5" height="8.50" fill="#01394b"/>
<rect x="306" y="290.00" width="18.5" height="8.50" fill="#027212"/>
<rect x="306" y="298.00" width="18.5" height="8.50" fill="#2e9202"/>
<rect x="306" y="306.00" width="18.5" height="8.50" fill="#86b101"/>
<rect x="306" y="314.00" width="18.5" height="8.50" fill="#c8c800"/>
<rect x="306" y="322.00" width="18.5" height="8.50" fill="#cab300"/>
<rect x="306" y="330.00" width="18.5" height="16.50" fill="#caaa00"/>
<rect x="306" y="346.00" width="18.5" height="8.50" fill="#cab300"/>
<rect x="306" y="354.00" width="18.5" height="8.50" fill="#c9c000"/>
<rect x="306" y="362.00" width="18.5" height="8.50" fill="#c6c700"/>
<rect x="306" y="370.00" width="18.5" height="8.50" fill="#bdc400"/>
<rect x="306" y="378.00" width="18.5" height="8.50" fill="#a7bc00"/>
<rect x="306" y="386.00" width="18.5" height="8.50" fill="#98b700"/>
<rect x="306" y="394.00" width="18.5" height="8.50" fill="#8db301"/>
<rect x="306" y="402.00" width="18.5" height="8.50" fill="#7bad01"/>
<rect x="306" y="410.00" width="18.5" height="8.50" fill="#6ea801"/>
<rect x="306" y="418.00" width="18.5" height="8.50" fill="#69a701"/>
<rect x="306" y="426.00" width="18.5" height="8.50" fill="#65a501"/>
<rect x="306" y="434.00" width="18.5" height="8.50" fill="#61a301"/>
<rect x="306" y="442.00" width="18.5" height="8.50" fill="#5ca201"/>
<rect x="306" y="450.00" width="18.5" height="8.50" fill="#5ea201"/>
<rect x="306" y="458.00" width="18.5" height="8.50" fill="#60a301"/>
<rect x="306" y="466.00" width="18.5" height="8.50" fill="#61a401"/>
<rect x="306" y="474.00" width="18.5" height="8.50" fill="#63a401"/>
<rect x="306" y="482.00" width="18.5" height="8.50" fill="#6da801"/>
<rect x="306" y="490.00" width="18.5" height="8.50" fill="#77ac01"/>
<rect x="306" y="498.00" width="18.5" height="8.50" fill="#8db301"/>
<rect x="306" y="506.00" width="18.5" height="24.50" fill="#a0ba00"/>
<rect x="306" y="530.00" width="18.5" height="8.50" fill="#93b501"/>
<rect x="306" y="538.00" width="18.5" height="8.50" fill="#5da201"/>
<rect x="306" y="546.00" width="18.5" height="8.50" fill="#0f8702"/>
<rect x="306" y="554.00" width="18.5" height="8.50" fill="#015c28"/>
<rect x="306" y="562.00" width="18.5" height="8.50" fill="#012d57"/>
<rect x="306" y="570.00" width="18.5" height="8.50" fill="#010083"/>
<rect x="306" y="578.00" width="18.5" height="8.50" fill="#0b007e"/>
<rect x="306" y="586.00" width="18.5" height="8.50" fill="#150078"/>
<rect x="306" y="594.00" width="18.5" height="8.50" fill="#180076"/>
<rect x="306" y="602.00" width="18.5" height="8.50" fill="#1c0074"/>
<rect x="306" y="610.00" width="18.5" height="8.50" fill="#1e0072"/>
<rect x="306" y="618.00" width="18.5" height="8.50" fill="#20006f"/>
<rect x="306" y="626.00" width="18.5" height="8.50" fill="#22006d"/>
<rect x="306" y="634.00" width="18.5" height="8.50" fill="#25006a"/>
<rect x="306" y="642.00" width="18.5" height="8.50" fill="#270068"/>
<rect x="306" y="650.00" width="18.5" height="8.50" fill="#280065"/>
<rect x="306" y="658.00" width="18.5" height="8.50" fill="#2a0063"/>
<rect x="306" y="666.00" width="18.5" height="8.50" fill="#2c0061"/>
<rect x="306" y="674.00" width="18.5" height="8.50" fill="#2e005f"/>
<rect x="306" y="682.00" width="18.5" height="136.00" fill="#070009"/>
<rect x="324" y="170.00" width="18.5" height="8.50" fill="#340058"/>
<rect x="324" y="178.00" width="18.5" height="8.50" fill="#32005b"/>
<rect x="324" y="186.00" width="18.5" height="8.50" fill="#30005d"/>
<rect x="324" y="194.00" width="18.5" height="8.50" fill="#2d0060"/>
<rect x="324" y="202.00" width="18.5" height="8.50" fill="#2a0063"/>
<rect x="324" y="210.00" width="18.5" height="8.50" fill="#280067"/>
<rect x="324" y="218.00" width="18.5" height="8.50" fill="#23006c"/>
<rect x="324" y="226.00" width="18.5" height="8.50" fill="#1e0072"/>
<rect x="324" y="234.00" width="18.5" height="8.50" fill="#1a0075"/>
<rect x="324" y="242.00" width="18.5" height="8.50" fill="#140079"/>
<rect x="324" y="250.00" width="18.5" height="8.50" fill="#0e007c"/>
<rect x="324" y="258.00" width="18.5" height="8.50" fill="#070080"/>
<rect x="324" y="266.00" width="18.5" height="8.50" fill="#000084"/>
<rect x="324" y="274.00" width="18.5" height="8.50" fill="#00186c"/>
<rect x="324" y="282.00" width="18.5" height="8.50" fill="#01463e"/>
<rect x="324" y="290.00" width="18.5" height="8.50" fill="#027a0a"/>
<rect x="324" y="298.00" width="18.5" height="8.50" fill="#65a501"/>
<rect x="324" y="306.00" width="18.5" height="8.50" fill="#c4c600"/>
<rect x="324" y="314.00" width="18.5" height="8.50" fill="#cc9e00"/>
<rect x="324" y="322.00" width="18.5" height="8.50" fill="#cd9100"/>
<rect x="324" y="330.00" width="18.5" height="16.50" fill="#cd8b00"/>
<rect x="324" y="346.00" width="18.5" height="8.50" fill="#cc9b00"/>
<rect x="324" y="354.00" width="18.5" height="8.50" fill="#caad00"/>
<rect x="324" y="362.00" width="18.5" height="8.50" fill="#c9ba00"/>
<rect x="324" y="370.00" width="18.5" height="8.50" fill="#c8c300"/>
<rect x="324" y="378.00" width="18.5" height="8.50" fill="#c0c500"/>
<rect x="324" y="386.00" width="18.5" height="8.50" fill="#adbf00"/>
<rect x="324" y="394.00" width="18.5" height="8.50" fill="#9bb800"/>
<rect x="324" y="402.00" width="18.5" height="8.50" fill="#85b001"/>
<rect x="324" y="410.00" width="18.5" height="8.50" fill="#6aa701"/>
<rect x="324" y="418.00" width="18.5" height="8.50" fill="#5da201"/>
<rect x="324" y="426.00" width="18.5" height="8.50" fill="#549f01"/>
<rect x="324" y="434.00" width="18.5" height="8.50" fill="#4b9c01"/>
<rect x="324" y="442.00" width="18.5" height="32.50" fill="#439901"/>
<rect x="324" y="474.00" width="18.5" height="8.50" fill="#4b9c01"/>
<rect x="324" y="482.00" width="18.5" height="8.50" fill="#509d01"/>
<rect x="324" y="490.00" width="18.5" height="8.50" fill="#549f01"/>
<rect x="324" y="498.00" width="18.5" height="8.50" fill="#77ab01"/>
<rect x="324" y="506.00" width="18.5" height="32.50" fill="#91b501"/>
<rect x="324" y="538.00" width="18.5" height="8.50" fill="#72aa01"/>
<rect x="324" y="546.00" width="18.5" height="8.50" fill="#299002"/>
<rect x="324" y="554.00" width="18.5" height="8.50" fill="#02691b"/>
<rect x="324" y="562.00" width="18.5" height="8.50" fill="#01384c"/>
<rect x="324" y="570.00" width="18.5" height="8.50" fill="#000084"/>
<rect x="324" y="578.00" width="18.5" height="8.50" fill="#0c007d"/>
<rect x="324" y="586.00" width="18.5" height="8.50" fill="#180076"/>
<rect x="324" y="594.00" width="18.5" height="8.50" fill="#1d0073"/>
<rect x="324" y="602.00" width="18.5" height="8.50" fill="#22006d"/>
<rect x="324" y="610.00" width="18.5" height="8.50" fill="#270068"/>
<rect x="324" y="618.00" width="18.5" height="8.50" fill="#2b0062"/>
<rect x="324" y="626.00" width="18.5" height="8.50" fill="#2d0060"/>
<rect x="324" y="634.00" width="18.5" height="8.50" fill="#30005d"/>
<rect x="324" y="642.00" width="18.5" height="8.50" fill="#32005a"/>
<rect x="324" y="650.00" width="18.5" height="8.50" fill="#340058"/>
<rect x="324" y="658.00" width="18.5" height="8.50" fill="#390055"/>
<rect x="324" y="666.00" width="18.5" height="8.50" fill="#3e0052"/>
<rect x="324" y="674.00" width="18.5" height="8.50" fill="#44004e"/>
<rect x="324" y="682.00" width="18.5" height="136.00" fill="#070009"/>
<rect x="342" y="170.00" width="18.5" height="8.50" fill="#340058"/>
<rect x="342" y="178.00" width="18.5" height="8.50" fill="#32005a"/>
<rect x="342" y="186.00" width="18.5" height="8.50" fill="#30005d"/>
<rect x="342" y="194.00" width="18.5" height="8.50" fill="#2e005f"/>
<rect x="342" y="202.00" width="18.5" height="8.50" fill="#2b0063"/>
<rect x="342" y="210.00" width="18.5" height="8.50" fill="#280066"/>
<rect x="342" y="218.00" width="18.5" height="8.50" fill="#25006a"/>
<rect x="342" y="226.00" width="18.5" height="8.50" fill="#1f0071"/>
<rect x="342" y="234.00" width="18.5" height="8.50" fill="#1a0075"/>
<rect x="342" y="242.00" width="18.5" height="8.50" fill="#150078"/>
<rect x="342" y="250.00" width="18.5" height="8.50" fill="#0e007c"/>
<rect x="342" y="258.00" width="18.5" height="8.50" fill="#070080"/>
<rect x="342" y="266.00" width="18.5" height="8.50" fill="#000084"/>
<rect x="342" y="274.00" width="18.5" height="8.50" fill="#001c68"/>
<rect x="342" y="282.00" width="18.5" height="8.50" fill="#01493b"/>
<rect x="342" y="290.00" width="18.5" height="8.50" fill="#027f05"/>
<rect x="342" y="298.00" width="18.5" height="8.50" fill="#70a901"/>
<rect x="342" y="306.00" width="18.5" height="8.50" fill="#c8c400"/>
<rect x="342" y="314.00" width="18.5" height="8.50" fill="#cc9700"/>
<rect x="342" y="322.00" width="18.5" height="8.50" fill="#cd8800"/>
<rect x="342" y="330.00" width="18.5" height="16.50" fill="#ce8000"/>
<rect x="342" y="346.00" width="18.5" height="8.50" fill="#cc9200"/>
<rect x="342" y="354.00" width="18.5" height="8.50" fill="#cba400"/>
<rect x="342" y="362.00" width="18.5" height="8.50" fill="#c9b600"/>
<rect x="342" y="370.00" width="18.5" height="8.50" fill="#c8c300"/>
<rect x="342" y="378.00" width="18.5" height="8.50" fill="#c3c600"/>
<rect x="342" y="386.00" width="18.5" height="8.50" fill="#adbf00"/>
<rect x="342" y="394.00" width="18.5" height="8.50" fill="#93b501"/>
<rect x="342" y="402.00" width="18.5" height="8.50" fill="#77ac01"/>
<rect x="342" y="410.00" width="18.5" height="8.50" fill="#5da201"/>
<rect x="342" y="418.00" width="18.5" height="8.50" fill="#549f01"/>
<rect x="342" y="426.00" width="18.5" height="8.50" fill="#439901"/>
<rect x="342" y="434.00" width="18.5" height="8.50" fill="#3a9601"/>
<rect x="342" y="442.00" width="18.5" height="32.50" fill="#329302"/>
<rect x="342" y="474.00" width="18.5" height="8.50" fill="#379501"/>
<rect x="342" y="482.00" width="18.5" height="8.50" fill="#3d9701"/>
<rect x="342" y="490.00" width="18.5" height="8.50" fill="#439901"/>
<rect x="342" y="498.00" width="18.5" height="8.50" fill="#549f01"/>
<rect x="342" y="506.00" width="18.5" height="8.50" fill="#65a501"/>
<rect x="342" y="514.00" width="18.5" height="8.50" fill="#7bad01"/>
<rect x="342" y="522.00" width="18.5" height="24.50" fill="#8fb401"/>
<rect x="342" y="546.00" width="18.5" height="8.50" fill="#69a701"/>
<rect x="342" y="554.00" width="18.5" height="8.50" fill="#1f8c02"/>
<rect x="342" y="562.00" width="18.5" height="8.50" fill="#026222"/>
<rect x="342" y="570.00" width="18.5" height="8.50" fill="#012a5a"/>
<rect x="342" y="578.00" width="18.5" height="8.50" fill="#00087c"/>
<rect x="342" y="586.00" width="18.5" height="8.50" fill="#0a007e"/>
<rect x="342" y="594.00" width="18.5" height="8.50" fill="#170077"/>
<rect x="342" y="602.00" width="18.5" height="8.50" fill="#22006d"/>
<rect x="342" y="610.00" width="18.5" height="8.50" fill="#270067"/>
<rect x="342" y="618.00" width="18.5" height="8.50" fill="#2b0062"/>
<rect x="342" y="626.00" width="18.5" height="8.50" fill="#2d0060"/>
<rect x="342" y="634.00" width="18.5" height="8.50" fill="#30005d"/>
<rect x="342" y="642.00" width="18.5" height="8.50" fill="#31005c"/>
<rect x="342" y="650.00" width="18.5" height="8.50" fill="#32005a"/>
<rect x="342" y="658.00" width="18.5" height="8.50" fill="#350057"/>
<rect x="342" y="666.00" width="18.5" height="8.50" fill="#3d0053"/>
<rect x="342" y="674.00" width="18.5" height="8.50" fill="#44004e"/>
<rect x="342" y="682.00" width="18.5" height="136.00" fill="#070009"/>
<rect x="360" y="170.00" width="18.5" height="8.50" fill="#40004a"/>
<rect x="360" y="178.00" width="18.5" height="8.50" fill="#44004e"/>
<rect x="360" y="186.00" width="18.5" height="8.50" fill="#330059"/>
<rect x="360" y="194.00" width="18.5" height="8.50" fill="#30005c"/>
<rect x="360" y="202.00" width="18.5" height="8.50" fill="#2e005f"/>
<rect x="360" y="210.00" width="18.5" height="8.50" fill="#2b0062"/>
<rect x="360" y="218.00" width="18.5" height="8.50" fill="#270067"/>
<rect x="360" y="226.00" width="18.5" height="8.50" fill="#23006c"/>
<rect x="360" y="234.00" width="18.5" height="8.50" fill="#1f0071"/>
<rect x="360" y="242.00" width="18.5" height="8.50" fill="#180076"/>
<rect x="360" y="250.00" width="18.5" height="8.50" fill="#130079"/>
<rect x="360" y="258.00" width="18.5" height="8.50" fill="#0a007e"/>
<rect x="360" y="266.00" width="18.5" height="8.50" fill="#040082"/>
<rect x="360" y="274.00" width="18.5" height="8.50" fill="#000b79"/>
<rect x="360" y="282.00" width="18.5" height="8.50" fill="#014143"/>
<rect x="360" y="290.00" width="18.5" height="8.50" fill="#027a0a"/>
<rect x="360" y="298.00" width="18.5" height="8.50" fill="#65a501"/>
<rect x="360" y="306.00" width="18.5" height="8.50" fill="#c4c600"/>
<rect x="360" y="314.00" width="18.5" height="8.50" fill="#cab300"/>
<rect x="360" y="322.00" width="18.5" height="24.50" fill="#caaa00"/>
<rect x="360" y="346.00" width="18.5" height="8.50" fill="#cab300"/>
<rect x="360" y="354.00" width="18.5" height="8.50" fill="#c9c200"/>
<rect x="360" y="362.00" width="18.5" height="8.50" fill="#bdc400"/>
<rect x="360" y="370.00" width="18.5" height="8.50" fill="#a9bd00"/>
<rect x="360" y="378.00" width="18.5" height="8.50" fill="#98b700"/>
<rect x="360" y="386.00" width="18.5" height="8.50" fill="#7bad01"/>
<rect x="360" y="394.00" width="18.5" height="8.50" fill="#65a501"/>
<rect x="360" y="402.00" width="18.5" height="8.50" fill="#4b9c01"/>
<rect x="360" y="410.00" width="18.5" height="8.50" fill="#3b9601"/>
<rect x="360" y="418.00" width="18.5" height="8.50" fill="#2e9102"/>
<rect x="360" y="426.00" width="18.5" height="8.50" fill="#208d02"/>
<rect x="360" y="434.00" width="18.5" height="8.50" fill="#1a8b02"/>
<rect x="360" y="442.00" width="18.5" height="40.50" fill="#148802"/>
<rect x="360" y="482.00" width="18.5" height="8.50" fill="#1d8b02"/>
<rect x="360" y="490.00" width="18.5" height="8.50" fill="#329302"/>
<rect x="360" y="498.00" width="18.5" height="8.50" fill="#439901"/>
<rect x="360" y="506.00" width="18.5" height="8.50" fill="#549f01"/>
<rect x="360" y="514.00" width="18.5" height="8.50" fill="#6ca701"/>
<rect x="360" y="522.00" width="18.5" height="24.50" fill="#8ab201"/>
<rect x="360" y="546.00" width="18.5" height="8.50" fill="#74aa01"/>
<rect x="360" y="554.00" width="18.5" height="8.50" fill="#359401"/>
<rect x="360" y="562.00" width="18.5" height="8.50" fill="#027c08"/>
<rect x="360" y="570.00" width="18.5" height="8.50" fill="#01473d"/>
<rect x="360" y="578.00" width="18.5" height="8.50" fill="#00176d"/>
<rect x="360" y="586.00" width="18.5" height="8.50" fill="#08007f"/>
<rect x="360" y="594.00" width="18.5" height="8.50" fill="#130079"/>
<rect x="360" y="602.00" width="18.5" height="8.50" fill="#1c0074"/>
<rect x="360" y="610.00" width="18.5" height="8.50" fill="#23006c"/>
<rect x="360" y="618.00" width="18.5" height="8.50" fill="#290064"/>
<rect x="360" y="626.00" width="18.5" height="8.50" fill="#2d0060"/>
<rect x="360" y="634.00" width="18.5" height="8.50" fill="#30005c"/>
<rect x="360" y="642.00" width="18.5" height="8.50" fill="#32005b"/>
<rect x="360" y="650.00" width="18.5" height="8.50" fill="#330059"/>
<rect x="360" y="658.00" width="18.5" height="8.50" fill="#3c0053"/>
<rect x="360" y="666.00" width="18.5" height="8.50" fill="#43004d"/>
<rect x="360" y="674.00" width="18.5" height="8.50" fill="#400049"/>
<rect x="360" y="682.00" width="18.5" height="8.50" fill="#3c0045"/>
<rect x="360" y="690.00" width="18.5" height="128.00" fill="#070009"/>
<rect x="378" y="170.00" width="18.5" height="8.50" fill="#3b0043"/>
<rect x="378" y="178.00" width="18.5" height="40.50" fill="#3b0044"/>
<rect x="378" y="218.00" width="18.5" height="8.50" fill="#3e0047"/>
<rect x="378" y="226.00" width="18.5" height="8.50" fill="#40004a"/>
<rect x="378" y="234.00" width="18.5" height="8.50" fill="#44004e"/>
<rect x="378" y="242.00" width="18.5" height="8.50" fill="#32005a"/>
<rect x="378" y="250.00" width="18.5" height="8.50" fill="#290064"/>
<rect x="378" y="258.00" width="18.5" height="8.50" fill="#1c0074"/>
<rect x="378" y="266.00" width="18.5" height="8.50" fill="#0e007c"/>
<rect x="378" y="274.00" width="18.5" height="8.50" fill="#00057f"/>
<rect x="378" y="282.00" width="18.5" height="8.50" fill="#012e56"/>
<rect x="378" y="290.00" width="18.5" height="8.50" fill="#02770d"/>
<rect x="378" y="298.00" width="18.5" height="8.50" fill="#449901"/>
<rect x="378" y="306.00" width="18.5" height="8.50" fill="#86b101"/>
<rect x="378" y="314.00" width="18.5" height="8.50" fill="#b2c000"/>
<rect x="378" y="322.00" width="18.5" height="8.50" fill="#c4c600"/>
<rect x="378" y="330.00" width="18.5" height="8.50" fill="#c3c600"/>
<rect x="378" y="338.00" width="18.5" height="8.50" fill="#c2c600"/>
<rect x="378" y="346.00" width="18.5" height="8.50" fill="#c1c600"/>
<rect x="378" y="354.00" width="18.5" height="8.50" fill="#a7bc00"/>
<rect x="378" y="362.00" width="18.5" height="8.50" fill="#93b501"/>
<rect x="378" y="370.00" width="18.5" height="8.50" fill="#72aa01"/>
<rect x="378" y="378.00" width="18.5" height="8.50" fill="#5ca201"/>
<rect x="378" y="386.00" width="18.5" height="8.50" fill="#449901"/>
<rect x="378" y="394.00" width="18.5" height="8.50" fill="#2e9202"/>
<rect x="378" y="402.00" width="18.5" height="8.50" fill="#238e02"/>
<rect x="378" y="410.00" width="18.5" height="8.50" fill="#188a02"/>
<rect x="378" y="418.00" width="18.5" height="8.50" fill="#0d8602"/>
<rect x="378" y="426.00" width="18.5" height="8.50" fill="#028202"/>
<rect x="378" y="434.00" width="18.5" height="8.50" fill="#027f05"/>
<rect x="378" y="442.00" width="18.5" height="40.50" fill="#027c08"/>
<rect x="378" y="482.00" width="18.5" height="8.50" fill="#088402"/>
<rect x="378" y="490.00" width="18.5" height="8.50" fill="#188a02"/>
<rect x="378" y="498.00" width="18.5" height="8.50" fill="#299002"/>
<rect x="378" y="506.00" width="18.5" height="8.50" fill="#3a9601"/>
<rect x="378" y="514.00" width="18.5" height="8.50" fill="#4d9c01"/>
<rect x="378" y="522.00" width="18.5" height="32.50" fill="#67a601"/>
<rect x="378" y="554.00" width="18.5" height="8.50" fill="#489b01"/>
<rect x="378" y="562.00" width="18.5" height="8.50" fill="#068402"/>
<rect x="378" y="570.00" width="18.5" height="8.50" fill="#015430"/>
<rect x="378" y="578.00" width="18.5" height="8.50" fill="#001d67"/>
<rect x="378" y="586.00" width="18.5" height="8.50" fill="#140079"/>
<rect x="378" y="594.00" width="18.5" height="8.50" fill="#21006e"/>
<rect x="378" y="602.00" width="18.5" height="8.50" fill="#2e005f"/>
<rect x="378" y="610.00" width="18.5" height="8.50" fill="#370056"/>
<rect x="378" y="618.00" width="18.5" height="8.50" fill="#41004b"/>
<rect x="378" y="626.00" width="18.5" height="8.50" fill="#3c0045"/>
<rect x="378" y="634.00" width="18.5" height="8.50" fill="#37003f"/>
<rect x="378" y="642.00" width="18.5" height="8.50" fill="#35003d"/>
<rect x="378" y="650.00" width="18.5" height="8.50" fill="#34003b"/>
<rect x="378" y="658.00" width="18.5" height="8.50" fill="#320039"/>
<rect x="378" y="666.00" width="18.5" height="8.50" fill="#300037"/>
<rect x="378" y="674.00" width="18.5" height="8.50" fill="#2e0035"/>
<rect x="378" y="682.00" width="18.5" height="8.50" fill="#2d0033"/>
<rect x="378" y="690.00" width="18.5" height="128.00" fill="#070009"/>
<rect x="396" y="170.00" width="18.5" height="40.50" fill="#35003d"/>
<rect x="396" y="210.00" width="18.5" height="8.50" fill="#36003d"/>
<rect x="396" y="218.00" width="18.5" height="24.50" fill="#36003e"/>
<rect x="396" y="242.00" width="18.5" height="8.50" fill="#390042"/>
<rect x="396" y="250.00" width="18.5" height="8.50" fill="#40004a"/>
<rect x="396" y="258.00" width="18.5" height="8.50" fill="#2e005f"/>
<rect x="396" y="266.00" width="18.5" height="8.50" fill="#180076"/>
<rect x="396" y="274.00" width="18.5" height="8.50" fill="#060081"/>
<rect x="396" y="282.00" width="18.5" height="8.50" fill="#001c68"/>
<rect x="396" y="290.00" width="18.5" height="8.50" fill="#026a1a"/>
<rect x="396" y="298.00" width="18.5" height="8.50" fill="#188a02"/>
<rect x="396" y="306.00" width="18.5" height="8.50" fill="#449901"/>
<rect x="396" y="314.00" width="18.5" height="8.50" fill="#549f01"/>
<rect x="396" y="322.00" width="18.5" height="32.50" fill="#6aa701"/>
<rect x="396" y="354.00" width="18.5" height="8.50" fill="#4b9c01"/>
<rect x="396" y="362.00" width="18.5" height="8.50" fill="#3a9601"/>
<rect x="396" y="370.00" width="18.5" height="8.50" fill="#329302"/>
<rect x="396" y="378.00" width="18.5" height="8.50" fill="#299002"/>
<rect x="396" y="386.00" width="18.5" height="8.50" fill="#028202"/>
<rect x="396" y="394.00" width="18.5" height="8.50" fill="#02770d"/>
<rect x="396" y="402.00" width="18.5" height="8.50" fill="#026f15"/>
<rect x="396" y="410.00" width="18.5" height="8.50" fill="#02661e"/>
<rect x="396" y="418.00" width="18.5" height="8.50" fill="#026222"/>
<rect x="396" y="426.00" width="18.5" height="8.50" fill="#015d27"/>
<rect x="396" y="434.00" width="18.5" height="8.50" fill="#015c28"/>
<rect x="396" y="442.00" width="18.5" height="8.50" fill="#015b29"/>
<rect x="396" y="450.00" width="18.5" height="8.50" fill="#015a2a"/>
<rect x="396" y="458.00" width="18.5" height="8.50" fill="#01592b"/>
<rect x="396" y="466.00" width="18.5" height="8.50" fill="#015c28"/>
<rect x="396" y="474.00" width="18.5" height="8.50" fill="#015e26"/>
<rect x="396" y="482.00" width="18.5" height="8.50" fill="#02681c"/>
<rect x="396" y="490.00" width="18.5" height="8.50" fill="#027212"/>
<rect x="396" y="498.00" width="18.5" height="8.50" fill="#028202"/>
<rect x="396" y="506.00" width="18.5" height="8.50" fill="#188a02"/>
<rect x="396" y="514.00" width="18.5" height="8.50" fill="#309202"/>
<rect x="396" y="522.00" width="18.5" height="32.50" fill="#409801"/>
<rect x="396" y="554.00" width="18.5" height="8.50" fill="#329302"/>
<rect x="396" y="562.00" width="18.5" height="8.50" fill="#048302"/>
<rect x="396" y="570.00" width="18.5" height="8.50" fill="#015430"/>
<rect x="396" y="578.00" width="18.5" height="8.50" fill="#001d67"/>
<rect x="396" y="586.00" width="18.5" height="8.50" fill="#180076"/>
<rect x="396" y="594.00" width="18.5" height="8.50" fill="#2e005f"/>
<rect x="396" y="602.00" width="18.5" height="8.50" fill="#42004c"/>
<rect x="396" y="610.00" width="18.5" height="8.50" fill="#3b0043"/>
<rect x="396" y="618.00" width="18.5" height="8.50" fill="#35003d"/>
<rect x="396" y="626.00" width="18.5" height="8.50" fill="#300037"/>
<rect x="396" y="634.00" width="18.5" height="8.50" fill="#2d0033"/>
<rect x="396" y="642.00" width="18.5" height="8.50" fill="#29002f"/>
<rect x="396" y="650.00" width="18.5" height="8.50" fill="#26002b"/>
<rect x="396" y="658.00" width="18.5" height="8.50" fill="#240029"/>
<rect x="396" y="666.00" width="18.5" height="8.50" fill="#230028"/>
<rect x="396" y="674.00" width="18.5" height="8.50" fill="#210026"/>
<rect x="396" y="682.00" width="18.5" height="8.50" fill="#200025"/>
<rect x="396" y="690.00" width="18.5" height="8.50" fill="#1f0023"/>
<rect x="396" y="698.00" width="18.5" height="120.00" fill="#070009"/>
<rect x="414" y="170.00" width="18.5" height="8.50" fill="#2d0033"/>
<rect x="414" y="178.00" width="18.5" height="8.50" fill="#2d0034"/>
<rect x="414" y="186.00" width="18.5" height="8.50" fill="#2e0035"/>
<rect x="414" y="194.00" width="18.5" height="8.50" fill="#2f0036"/>
<rect x="414" y="202.00" width="18.5" height="8.50" fill="#300037"/>
<rect x="414" y="210.00" width="18.5" height="8.50" fill="#310038"/>
<rect x="414" y="218.00" width="18.5" height="8.50" fill="#310039"/>
<rect x="414" y="226.00" width="18.5" height="8.50" fill="#32003a"/>
<rect x="414" y="234.00" width="18.5" height="8.50" fill="#33003a"/>
<rect x="414" y="242.00" width="18.5" height="8.50" fill="#34003b"/>
<rect x="414" y="250.00" width="18.5" height="8.50" fill="#3b0043"/>
<rect x="414" y="258.00" width="18.5" height="8.50" fill="#340058"/>
<rect x="414" y="266.00" width="18.5" height="8.50" fill="#25006a"/>
<rect x="414" y="274.00" width="18.5" height="8.50" fill="#12007a"/>
<rect x="414" y="282.00" width="18.5" height="8.50" fill="#000084"/>
<rect x="414" y="290.00" width="18.5" height="8.50" fill="#013153"/>
<rect x="414" y="298.00" width="18.5" height="8.50" fill="#02661e"/>
<rect x="414" y="306.00" width="18.5" height="8.50" fill="#028202"/>
<rect x="414" y="314.00" width="18.5" height="16.50" fill="#098402"/>
<rect x="414" y="330.00" width="18.5" height="8.50" fill="#098502"/>
<rect x="414" y="338.00" width="18.5" height="24.50" fill="#0a8502"/>
<rect x="414" y="362.00" width="18.5" height="24.50" fill="#0b8502"/>
<rect x="414" y="386.00" width="18.5" height="8.50" fill="#027212"/>
<rect x="414" y="394.00" width="18.5" height="8.50" fill="#026222"/>
<rect x="414" y="402.00" width="18.5" height="8.50" fill="#01582c"/>
<rect x="414" y="410.00" width="18.5" height="8.50" fill="#014e36"/>
<rect x="414" y="418.00" width="18.5" height="8.50" fill="#014a3a"/>
<rect x="414" y="426.00" width="18.5" height="8.50" fill="#01463e"/>
<rect x="414" y="434.00" width="18.5" height="8.50" fill="#01453f"/>
<rect x="414" y="442.00" width="18.5" height="8.50" fill="#014440"/>
<rect x="414" y="450.00" width="18.5" height="16.50" fill="#014341"/>
<rect x="414" y="466.00" width="18.5" height="8.50" fill="#01453f"/>
<rect x="414" y="474.00" width="18.5" height="8.50" fill="#01473d"/>
<rect x="414" y="482.00" width="18.5" height="8.50" fill="#015331"/>
<rect x="414" y="490.00" width="18.5" height="8.50" fill="#015e26"/>
<rect x="414" y="498.00" width="18.5" height="8.50" fill="#026f15"/>
<rect x="414" y="506.00" width="18.5" height="8.50" fill="#027c08"/>
<rect x="414" y="514.00" width="18.5" height="48.50" fill="#0f8702"/>
<rect x="414" y="562.00" width="18.5" height="8.50" fill="#02750f"/>
<rect x="414" y="570.00" width="18.5" height="8.50" fill="#01562e"/>
<rect x="414" y="578.00" width="18.5" height="8.50" fill="#00166e"/>
<rect x="414" y="586.00" width="18.5" height="8.50" fill="#0e007c"/>
<rect x="414" y="594.00" width="18.5" height="8.50" fill="#25006a"/>
<rect x="414" y="602.00" width="18.5" height="8.50" fill="#43004d"/>
<rect x="414" y="610.00" width="18.5" height="8.50" fill="#37003f"/>
<rect x="414" y="618.00" width="18.5" height="8.50" fill="#300037"/>
<rect x="414" y="626.00" width="18.5" height="8.50" fill="#2b0031"/>
<rect x="414" y="634.00" width="18.5" height="8.50" fill="#26002b"/>
<rect x="414" y="642.00" width="18.5" height="8.50" fill="#240029"/>
<rect x="414" y="650.00" width="18.5" height="8.50" fill="#220027"/>
<rect x="414" y="658.00" width="18.5" height="8.50" fill="#200025"/>
<rect x="414" y="666.00" width="18.5" height="8.50" fill="#1f0023"/>
<rect x="414" y="674.00" width="18.5" height="8.50" fill="#1d0022"/>
<rect x="414" y="682.00" width="18.5" height="8.50" fill="#1c0020"/>
<rect x="414" y="690.00" width="18.5" height="8.50" fill="#1b001f"/>
<rect x="414" y="698.00" width="18.5" height="120.00" fill="#070009"/>
<rect x="432" y="170.00" width="18.5" height="8.50" fill="#220027"/>
<rect x="432" y="178.00" width="18.5" height="8.50" fill="#230028"/>
<rect x="432" y="186.00" width="18.5" height="8.50" fill="#230029"/>
<rect x="432" y="194.00" width="18.5" height="8.50" fill="#240029"/>
<rect x="432" y="202.00" width="18.5" height="8.50" fill="#25002a"/>
<rect x="432" y="210.00" width="18.5" height="8.50" fill="#26002b"/>
<rect x="432" y="218.00" width="18.5" height="8.50" fill="#26002c"/>
<rect x="432" y="226.00" width="18.5" height="8.50" fill="#27002d"/>
<rect x="432" y="234.00" width="18.5" height="16.50" fill="#28002e"/>
<rect x="432" y="250.00" width="18.5" height="8.50" fill="#29002f"/>
<rect x="432" y="258.00" width="18.5" height="8.50" fill="#300037"/>
<rect x="432" y="266.00" width="18.5" height="8.50" fill="#3c0045"/>
<rect x="432" y="274.00" width="18.5" height="8.50" fill="#32005a"/>
<rect x="432" y="282.00" width="18.5" height="8.50" fill="#180076"/>
<rect x="432" y="290.00" width="18.5" height="8.50" fill="#050081"/>
<rect x="432" y="298.00" width="18.5" height="8.50" fill="#001c68"/>
<rect x="432" y="306.00" width="18.5" height="8.50" fill="#01463e"/>
<rect x="432" y="314.00" width="18.5" height="8.50" fill="#015d27"/>
<rect x="432" y="322.00" width="18.5" height="8.50" fill="#02651f"/>
<rect x="432" y="330.00" width="18.5" height="32.50" fill="#02681c"/>
<rect x="432" y="362.00" width="18.5" height="24.50" fill="#02691b"/>
<rect x="432" y="386.00" width="18.5" height="8.50" fill="#01562e"/>
<rect x="432" y="394.00" width="18.5" height="8.50" fill="#01463e"/>
<rect x="432" y="402.00" width="18.5" height="8.50" fill="#013f45"/>
<rect x="432" y="410.00" width="18.5" height="8.50" fill="#01394b"/>
<rect x="432" y="418.00" width="18.5" height="8.50" fill="#01374d"/>
<rect x="432" y="426.00" width="18.5" height="8.50" fill="#01364e"/>
<rect x="432" y="434.00" width="18.5" height="8.50" fill="#013450"/>
<rect x="432" y="442.00" width="18.5" height="8.50" fill="#013252"/>
<rect x="432" y="450.00" width="18.5" height="8.50" fill="#013351"/>
<rect x="432" y="458.00" width="18.5" height="8.50" fill="#013450"/>
<rect x="432" y="466.00" width="18.5" height="8.50" fill="#01354f"/>
<rect x="432" y="474.00" width="18.5" height="8.50" fill="#01364e"/>
<rect x="432" y="482.00" width="18.5" height="8.50" fill="#013f45"/>
<rect x="432" y="490.00" width="18.5" height="8.50" fill="#01493b"/>
<rect x="432" y="498.00" width="18.5" height="8.50" fill="#015c28"/>
<rect x="432" y="506.00" width="18.5" height="8.50" fill="#02691b"/>
<rect x="432" y="514.00" width="18.5" height="48.50" fill="#027c08"/>
<rect x="432" y="562.00" width="18.5" height="8.50" fill="#02750f"/>
<rect x="432" y="570.00" width="18.5" height="8.50" fill="#026222"/>
<rect x="432" y="578.00" width="18.5" height="8.50" fill="#014341"/>
<rect x="432" y="586.00" width="18.5" height="8.50" fill="#000b79"/>
<rect x="432" y="594.00" width="18.5" height="8.50" fill="#12007a"/>
<rect x="432" y="602.00" width="18.5" height="8.50" fill="#290064"/>
<rect x="432" y="610.00" width="18.5" height="8.50" fill="#42004c"/>
<rect x="432" y="618.00" width="18.5" height="8.50" fill="#37003f"/>
<rect x="432" y="626.00" width="18.5" height="8.50" fill="#300037"/>
<rect x="432" y="634.00" width="18.5" height="8.50" fill="#2b0031"/>
<rect x="432" y="642.00" width="18.5" height="8.50" fill="#26002b"/>
<rect x="432" y="650.00" width="18.5" height="8.50" fill="#230028"/>
<rect x="432" y="658.00" width="18.5" height="8.50" fill="#210026"/>
<rect x="432" y="666.00" width="18.5" height="8.50" fill="#1f0023"/>
<rect x="432" y="674.00" width="18.5" height="8.50" fill="#1d0022"/>
<rect x="432" y="682.00" width="18.5" height="8.50" fill="#1c0020"/>
<rect x="432" y="690.00" width="18.5" height="8.50" fill="#1b001f"/>
<rect x="432" y="698.00" width="18.5" height="8.50" fill="#1a001e"/>
<rect x="432" y="706.00" width="18.5" height="112.00" fill="#070009"/>
<rect x="450" y="170.00" width="18.5" height="8.50" fill="#1b001f"/>
<rect x="450" y="178.00" width="18.5" height="24.50" fill="#1c0020"/>
<rect x="450" y="202.00" width="18.5" height="8.50" fill="#1c0021"/>
<rect x="450" y="210.00" width="18.5" height="16.50" fill="#1d0021"/>
<rect x="450" y="226.00" width="18.5" height="8.50" fill="#1d0022"/>
<rect x="450" y="234.00" width="18.5" height="16.50" fill="#1e0022"/>
<rect x="450" y="250.00" width="18.5" height="8.50" fill="#1e0023"/>
<rect x="450" y="258.00" width="18.5" height="8.50" fill="#1f0023"/>
<rect x="450" y="266.00" width="18.5" height="8.50" fill="#26002b"/>
<rect x="450" y="274.00" width="18.5" height="8.50" fill="#2d0033"/>
<rect x="450" y="282.00" width="18.5" height="8.50" fill="#3d0046"/>
<rect x="450" y="290.00" width="18.5" height="8.50" fill="#32005a"/>
<rect x="450" y="298.00" width="18.5" height="8.50" fill="#1c0074"/>
<rect x="450" y="306.00" width="18.5" height="8.50" fill="#09007f"/>
<rect x="450" y="314.00" width="18.5" height="8.50" fill="#00057f"/>
<rect x="450" y="322.00" width="18.5" height="8.50" fill="#01255f"/>
<rect x="450" y="330.00" width="18.5" height="8.50" fill="#012c58"/>
<rect x="450" y="338.00" width="18.5" height="24.50" fill="#01364e"/>
<rect x="450" y="362.00" width="18.5" height="24.50" fill="#01374d"/>
<rect x="450" y="386.00" width="18.5" height="8.50" fill="#012f55"/>
<rect x="450" y="394.00" width="18.5" height="8.50" fill="#01275d"/>
<rect x="450" y="402.00" width="18.5" height="8.50" fill="#012262"/>
<rect x="450" y="410.00" width="18.5" height="8.50" fill="#001d67"/>
<rect x="450" y="418.00" width="18.5" height="8.50" fill="#001b69"/>
<rect x="450" y="426.00" width="18.5" height="8.50" fill="#00196b"/>
<rect x="450" y="434.00" width="18.5" height="8.50" fill="#00176d"/>
<rect x="450" y="442.00" width="18.5" height="8.50" fill="#00156f"/>
<rect x="450" y="450.00" width="18.5" height="8.50" fill="#00166e"/>
<rect x="450" y="458.00" width="18.5" height="8.50" fill="#00176d"/>
<rect x="450" y="466.00" width="18.5" height="16.50" fill="#00186c"/>
<rect x="450" y="482.00" width="18.5" height="8.50" fill="#012460"/>
<rect x="450" y="490.00" width="18.5" height="8.50" fill="#012e56"/>
<rect x="450" y="498.00" width="18.5" height="8.50" fill="#013e46"/>
<rect x="450" y="506.00" width="18.5" height="8.50" fill="#014b39"/>
<rect x="450" y="514.00" width="18.5" height="8.50" fill="#01582c"/>
<rect x="450" y="522.00" width="18.5" height="48.50" fill="#02651f"/>
<rect x="450" y="570.00" width="18.5" height="8.50" fill="#015c28"/>
<rect x="450" y="578.00" width="18.5" height="8.50" fill="#014f35"/>
<rect x="450" y="586.00" width="18.5" height="8.50" fill="#012d57"/>
<rect x="450" y="594.00" width="18.5" height="8.50" fill="#000084"/>
<rect x="450" y="602.00" width="18.5" height="8.50" fill="#150078"/>
<rect x="450" y="610.00" width="18.5" height="8.50" fill="#290064"/>
<rect x="450" y="618.00" width="18.5" height="8.50" fill="#43004d"/>
<rect x="450" y="626.00" width="18.5" height="8.50" fill="#37003f"/>
<rect x="450" y="634.00" width="18.5" height="8.50" fill="#320039"/>
<rect x="450" y="642.00" width="18.5" height="8.50" fill="#2d0033"/>
<rect x="450" y="650.00" width="18.5" height="8.50" fill="#27002d"/>
<rect x="450" y="658.00" width="18.5" height="8.50" fill="#220027"/>
<rect x="450" y="666.00" width="18.5" height="8.50" fill="#210025"/>
<rect x="450" y="674.00" width="18.5" height="8.50" fill="#1f0024"/>
<rect x="450" y="682.00" width="18.5" height="8.50" fill="#1e0022"/>
<rect x="450" y="690.00" width="18.5" height="8.50" fill="#1c0020"/>
<rect x="450" y="698.00" width="18.5" height="8.50" fill="#1b001f"/>
<rect x="450" y="706.00" width="18.5" height="8.50" fill="#19001d"/>
<rect x="450" y="714.00" width="18.5" height="104.00" fill="#070009"/>
<rect x="468" y="170.00" width="18.5" height="8.50" fill="#030004"/>
<rect x="468" y="178.00" width="18.5" height="16.50" fill="#110014"/>
<rect x="468" y="194.00" width="18.5" height="8.50" fill="#120014"/>
<rect x="468" y="202.00" width="18.5" height="16.50" fill="#120015"/>
<rect x="468" y="218.00" width="18.5" height="8.50" fill="#130015"/>
<rect x="468" y="226.00" width="18.5" height="24.50" fill="#130016"/>
<rect x="468" y="250.00" width="18.5" height="24.50" fill="#140017"/>
<rect x="468" y="274.00" width="18.5" height="8.50" fill="#1a001d"/>
<rect x="468" y="282.00" width="18.5" height="8.50" fill="#1f0023"/>
<rect x="468" y="290.00" width="18.5" height="8.50" fill="#29002f"/>
<rect x="468" y="298.00" width="18.5" height="8.50" fill="#34003b"/>
<rect x="468" y="306.00" width="18.5" height="8.50" fill="#40004a"/>
<rect x="468" y="314.00" width="18.5" height="8.50" fill="#2e005f"/>
<rect x="468" y="322.00" width="18.5" height="8.50" fill="#180076"/>
<rect x="468" y="330.00" width="18.5" height="8.50" fill="#0a007e"/>
<rect x="468" y="338.00" width="18.5" height="8.50" fill="#020083"/>
<rect x="468" y="346.00" width="18.5" height="8.50" fill="#00087c"/>
<rect x="468" y="354.00" width="18.5" height="32.50" fill="#00186c"/>
<rect x="468" y="386.00" width="18.5" height="8.50" fill="#001074"/>
<rect x="468" y="394.00" width="18.5" height="8.50" fill="#000e76"/>
<rect x="468" y="402.00" width="18.5" height="8.50" fill="#000c78"/>
<rect x="468" y="410.00" width="18.5" height="8.50" fill="#000a7a"/>
<rect x="468" y="418.00" width="18.5" height="8.50" fill="#00097b"/>
<rect x="468" y="426.00" width="18.5" height="8.50" fill="#00087c"/>
<rect x="468" y="434.00" width="18.5" height="8.50" fill="#00067e"/>
<rect x="468" y="442.00" width="18.5" height="8.50" fill="#00057f"/>
<rect x="468" y="450.00" width="18.5" height="8.50" fill="#000480"/>
<rect x="468" y="458.00" width="18.5" height="8.50" fill="#000381"/>
<rect x="468" y="466.00" width="18.5" height="8.50" fill="#00067e"/>
<rect x="468" y="474.00" width="18.5" height="8.50" fill="#000a7a"/>
<rect x="468" y="482.00" width="18.5" height="8.50" fill="#000d77"/>
<rect x="468" y="490.00" width="18.5" height="8.50" fill="#001074"/>
<rect x="468" y="498.00" width="18.5" height="8.50" fill="#01255f"/>
<rect x="468" y="506.00" width="18.5" height="8.50" fill="#01394b"/>
<rect x="468" y="514.00" width="18.5" height="8.50" fill="#01493b"/>
<rect x="468" y="522.00" width="18.5" height="8.50" fill="#01592b"/>
<rect x="468" y="530.00" width="18.5" height="32.50" fill="#026a1a"/>
<rect x="468" y="562.00" width="18.5" height="8.50" fill="#01592b"/>
<rect x="468" y="570.00" width="18.5" height="8.50" fill="#014c38"/>
<rect x="468" y="578.00" width="18.5" height="8.50" fill="#013e46"/>
<rect x="468" y="586.00" width="18.5" height="8.50" fill="#01295b"/>
<rect x="468" y="594.00" width="18.5" height="8.50" fill="#000084"/>
<rect x="468" y="602.00" width="18.5" height="8.50" fill="#0f007b"/>
<rect x="468" y="610.00" width="18.5" height="8.50" fill="#21006e"/>
<rect x="468" y="618.00" width="18.5" height="8.50" fill="#370056"/>
<rect x="468" y="626.00" width="18.5" height="8.50" fill="#3d0046"/>
<rect x="468" y="634.00" width="18.5" height="8.50" fill="#35003d"/>
<rect x="468" y="642.00" width="18.5" height="8.50" fill="#2f0036"/>
<rect x="468" y="650.00" width="18.5" height="8.50" fill="#29002f"/>
<rect x="468" y="658.00" width="18.5" height="8.50" fill="#26002b"/>
<rect x="468" y="666.00" width="18.5" height="8.50" fill="#220028"/>
<rect x="468" y="674.00" width="18.5" height="8.50" fill="#1f0024"/>
<rect x="468" y="682.00" width="18.5" height="8.50" fill="#1e0022"/>
<rect x="468" y="690.00" width="18.5" height="8.50" fill="#1d0021"/>
<rect x="468" y="698.00" width="18.5" height="8.50" fill="#1b001f"/>
<rect x="468" y="706.00" width="18.5" height="8.50" fill="#1b001e"/>
<rect x="468" y="714.00" width="18.5" height="8.50" fill="#1a001e"/>
<rect x="468" y="722.00" width="18.5" height="8.50" fill="#19001d"/>
<rect x="468" y="730.00" width="18.5" height="88.00" fill="#070009"/>
<rect x="486" y="170.00" width="18.5" height="24.50" fill="#030004"/>
<rect x="486" y="194.00" width="18.5" height="8.50" fill="#140017"/>
<rect x="486" y="202.00" width="18.5" height="8.50" fill="#150018"/>
<rect x="486" y="210.00" width="18.5" height="8.50" fill="#16001a"/>
<rect x="486" y="218.00" width="18.5" height="8.50" fill="#17001b"/>
<rect x="486" y="226.00" width="18.5" height="8.50" fill="#18001c"/>
<rect x="486" y="234.00" width="18.5" height="8.50" fill="#19001d"/>
<rect x="486" y="242.00" width="18.5" height="8.50" fill="#1a001e"/>
<rect x="486" y="250.00" width="18.5" height="8.50" fill="#1b001f"/>
<rect x="486" y="258.00" width="18.5" height="8.50" fill="#1c0020"/>
<rect x="486" y="266.00" width="18.5" height="8.50" fill="#1d0021"/>
<rect x="486" y="274.00" width="18.5" height="8.50" fill="#1e0022"/>
<rect x="486" y="282.00" width="18.5" height="8.50" fill="#1f0023"/>
<rect x="486" y="290.00" width="18.5" height="8.50" fill="#240029"/>
<rect x="486" y="298.00" width="18.5" height="8.50" fill="#29002f"/>
<rect x="486" y="306.00" width="18.5" height="8.50" fill="#2e0035"/>
<rect x="486" y="314.00" width="18.5" height="8.50" fill="#36003e"/>
<rect x="486" y="322.00" width="18.5" height="8.50" fill="#3e0048"/>
<rect x="486" y="330.00" width="18.5" height="8.50" fill="#30005d"/>
<rect x="486" y="338.00" width="18.5" height="8.50" fill="#20006f"/>
<rect x="486" y="346.00" width="18.5" height="8.50" fill="#150078"/>
<rect x="486" y="354.00" width="18.5" height="8.50" fill="#0a007e"/>
<rect x="486" y="362.00" width="18.5" height="8.50" fill="#040082"/>
<rect x="486" y="370.00" width="18.5" height="8.50" fill="#000084"/>
<rect x="486" y="378.00" width="18.5" height="24.50" fill="#00057f"/>
<rect x="486" y="402.00" width="18.5" height="24.50" fill="#00067e"/>
<rect x="486" y="426.00" width="18.5" height="8.50" fill="#00077d"/>
<rect x="486" y="434.00" width="18.5" height="16.50" fill="#00067e"/>
<rect x="486" y="450.00" width="18.5" height="24.50" fill="#00057f"/>
<rect x="486" y="474.00" width="18.5" height="16.50" fill="#000480"/>
<rect x="486" y="490.00" width="18.5" height="8.50" fill="#000381"/>
<rect x="486" y="498.00" width="18.5" height="8.50" fill="#001074"/>
<rect x="486" y="506.00" width="18.5" height="8.50" fill="#002064"/>
<rect x="486" y="514.00" width="18.5" height="8.50" fill="#013153"/>
<rect x="486" y="522.00" width="18.5" height="8.50" fill="#013e46"/>
<rect x="486" y="530.00" width="18.5" height="40.50" fill="#01493b"/>
<rect x="486" y="570.00" width="18.5" height="8.50" fill="#013e46"/>
<rect x="486" y="578.00" width="18.5" height="8.50" fill="#01364e"/>
<rect x="486" y="586.00" width="18.5" height="8.50" fill="#01255f"/>
<rect x="486" y="594.00" width="18.5" height="8.50" fill="#00057f"/>
<rect x="486" y="602.00" width="18.5" height="8.50" fill="#060081"/>
<rect x="486" y="610.00" width="18.5" height="8.50" fill="#12007a"/>
<rect x="486" y="618.00" width="18.5" height="8.50" fill="#21006e"/>
<rect x="486" y="626.00" width="18.5" height="8.50" fill="#370056"/>
<rect x="486" y="634.00" width="18.5" height="8.50" fill="#3c0045"/>
<rect x="486" y="642.00" width="18.5" height="8.50" fill="#34003c"/>
<rect x="486" y="650.00" width="18.5" height="8.50" fill="#2f0036"/>
<rect x="486" y="658.00" width="18.5" height="8.50" fill="#2a0031"/>
<rect x="486" y="666.00" width="18.5" height="8.50" fill="#27002d"/>
<rect x="486" y="674.00" width="18.5" height="8.50" fill="#240029"/>
<rect x="486" y="682.00" width="18.5" height="8.50" fill="#210025"/>
<rect x="486" y="690.00" width="18.5" height="8.50" fill="#1f0024"/>
<rect x="486" y="698.00" width="18.5" height="8.50" fill="#1e0022"/>
<rect x="486" y="706.00" width="18.5" height="8.50" fill="#1d0021"/>
<rect x="486" y="714.00" width="18.5" height="8.50" fill="#1c0020"/>
<rect x="486" y="722.00" width="18.5" height="8.50" fill="#1a001e"/>
<rect x="486" y="730.00" width="18.5" height="8.50" fill="#19001d"/>
<rect x="486" y="738.00" width="18.5" height="80.00" fill="#070009"/>
<rect x="504" y="170.00" width="18.5" height="32.50" fill="#030004"/>
<rect x="504" y="202.00" width="18.5" height="8.50" fill="#110014"/>
<rect x="504" y="210.00" width="18.5" height="8.50" fill="#120014"/>
<rect x="504" y="218.00" width="18.5" height="8.50" fill="#120015"/>
<rect x="504" y="226.00" width="18.5" height="8.50" fill="#130016"/>
<rect x="504" y="234.00" width="18.5" height="16.50" fill="#140017"/>
<rect x="504" y="250.00" width="18.5" height="8.50" fill="#150018"/>
<rect x="504" y="258.00" width="18.5" height="8.50" fill="#160019"/>
<rect x="504" y="266.00" width="18.5" height="8.50" fill="#16001a"/>
<rect x="504" y="274.00" width="18.5" height="8.50" fill="#17001b"/>
<rect x="504" y="282.00" width="18.5" height="8.50" fill="#18001b"/>
<rect x="504" y="290.00" width="18.5" height="8.50" fill="#1b001f"/>
<rect x="504" y="298.00" width="18.5" height="8.50" fill="#1e0022"/>
<rect x="504" y="306.00" width="18.5" height="8.50" fill="#210025"/>
<rect x="504" y="314.00" width="18.5" height="8.50" fill="#26002b"/>
<rect x="504" y="322.00" width="18.5" height="8.50" fill="#2d0033"/>
<rect x="504" y="330.00" width="18.5" height="8.50" fill="#36003e"/>
<rect x="504" y="338.00" width="18.5" height="8.50" fill="#40004a"/>
<rect x="504" y="346.00" width="18.5" height="8.50" fill="#32005a"/>
<rect x="504" y="354.00" width="18.5" height="8.50" fill="#280067"/>
<rect x="504" y="362.00" width="18.5" height="8.50" fill="#1c0074"/>
<rect x="504" y="370.00" width="18.5" height="8.50" fill="#130079"/>
<rect x="504" y="378.00" width="18.5" height="8.50" fill="#0a007e"/>
<rect x="504" y="386.00" width="18.5" height="8.50" fill="#050081"/>
<rect x="504" y="394.00" width="18.5" height="16.50" fill="#000084"/>
<rect x="504" y="410.00" width="18.5" height="8.50" fill="#010084"/>
<rect x="504" y="418.00" width="18.5" height="32.50" fill="#010083"/>
<rect x="504" y="450.00" width="18.5" height="24.50" fill="#010084"/>
<rect x="504" y="474.00" width="18.5" height="32.50" fill="#000084"/>
<rect x="504" y="506.00" width="18.5" height="8.50" fill="#000d77"/>
<rect x="504" y="514.00" width="18.5" height="8.50" fill="#00186c"/>
<rect x="504" y="522.00" width="18.5" height="8.50" fill="#012460"/>
<rect x="504" y="530.00" width="18.5" height="8.50" fill="#013153"/>
<rect x="504" y="538.00" width="18.5" height="8.50" fill="#013252"/>
<rect x="504" y="546.00" width="18.5" height="8.50" fill="#013351"/>
<rect x="504" y="554.00" width="18.5" height="8.50" fill="#013450"/>
<rect x="504" y="562.00" width="18.5" height="8.50" fill="#01354f"/>
<rect x="504" y="570.00" width="18.5" height="8.50" fill="#01364e"/>
<rect x="504" y="578.00" width="18.5" height="8.50" fill="#012c58"/>
<rect x="504" y="586.00" width="18.5" height="8.50" fill="#002064"/>
<rect x="504" y="594.00" width="18.5" height="8.50" fill="#00087c"/>
<rect x="504" y="602.00" width="18.5" height="8.50" fill="#020083"/>
<rect x="504" y="610.00" width="18.5" height="8.50" fill="#0a007e"/>
<rect x="504" y="618.00" width="18.5" height="8.50" fill="#170077"/>
<rect x="504" y="626.00" width="18.5" height="8.50" fill="#270068"/>
<rect x="504" y="634.00" width="18.5" height="8.50" fill="#3a0054"/>
<rect x="504" y="642.00" width="18.5" height="8.50" fill="#3e0048"/>
<rect x="504" y="650.00" width="18.5" height="8.50" fill="#37003f"/>
<rect x="504" y="658.00" width="18.5" height="8.50" fill="#320039"/>
<rect x="504" y="666.00" width="18.5" height="8.50" fill="#2d0033"/>
<rect x="504" y="674.00" width="18.5" height="8.50" fill="#2a0030"/>
<rect x="504" y="682.00" width="18.5" height="8.50" fill="#26002c"/>
<rect x="504" y="690.00" width="18.5" height="8.50" fill="#230029"/>
<rect x="504" y="698.00" width="18.5" height="8.50" fill="#220027"/>
<rect x="504" y="706.00" width="18.5" height="8.50" fill="#210025"/>
<rect x="504" y="714.00" width="18.5" height="8.50" fill="#1f0024"/>
<rect x="504" y="722.00" width="18.5" height="8.50" fill="#1e0022"/>
<rect x="504" y="730.00" width="18.5" height="8.50" fill="#1c0020"/>
<rect x="504" y="738.00" width="18.5" height="8.50" fill="#1b001f"/>
<rect x="504" y="746.00" width="18.5" height="8.50" fill="#19001d"/>
<rect x="504" y="754.00" width="18.5" height="64.00" fill="#070009"/>
<rect x="522" y="170.00" width="18.5" height="48.50" fill="#030004"/>
<rect x="522" y="218.00" width="18.5" height="8.50" fill="#110014"/>
<rect x="522" y="226.00" width="18.5" height="8.50" fill="#120014"/>
<rect x="522" y="234.00" width="18.5" height="8.50" fill="#120015"/>
<rect x="522" y="242.00" width="18.5" height="8.50" fill="#130016"/>
<rect x="522" y="250.00" width="18.5" height="16.50" fill="#140017"/>
<rect x="522" y="266.00" width="18.5" height="8.50" fill="#150018"/>
<rect x="522" y="274.00" width="18.5" height="8.50" fill="#160019"/>
<rect x="522" y="282.00" width="18.5" height="8.50" fill="#16001a"/>
<rect x="522" y="290.00" width="18.5" height="8.50" fill="#17001b"/>
<rect x="522" y="298.00" width="18.5" height="8.50" fill="#18001b"/>
<rect x="522" y="306.00" width="18.5" height="8.50" fill="#1b001f"/>
<rect x="522" y="314.00" width="18.5" height="8.50" fill="#1f0023"/>
<rect x="522" y="322.00" width="18.5" height="8.50" fill="#220027"/>
<rect x="522" y="330.00" width="18.5" height="8.50" fill="#29002f"/>
<rect x="522" y="338.00" width="18.5" height="8.50" fill="#300037"/>
<rect x="522" y="346.00" width="18.5" height="8.50" fill="#390042"/>
<rect x="522" y="354.00" width="18.5" height="8.50" fill="#42004c"/>
<rect x="522" y="362.00" width="18.5" height="8.50" fill="#32005a"/>
<rect x="522" y="370.00" width="18.5" height="8.50" fill="#280067"/>
<rect x="522" y="378.00" width="18.5" height="8.50" fill="#1f0071"/>
<rect x="522" y="386.00" width="18.5" height="8.50" fill="#170077"/>
<rect x="522" y="394.00" width="18.5" height="8.50" fill="#10007b"/>
<rect x="522" y="402.00" width="18.5" height="8.50" fill="#0a007e"/>
<rect x="522" y="410.00" width="18.5" height="8.50" fill="#050081"/>
<rect x="522" y="418.00" width="18.5" height="104.50" fill="#000084"/>
<rect x="522" y="522.00" width="18.5" height="8.50" fill="#000b79"/>
<rect x="522" y="530.00" width="18.5" height="8.50" fill="#00156f"/>
<rect x="522" y="538.00" width="18.5" height="8.50" fill="#012460"/>
<rect x="522" y="546.00" width="18.5" height="16.50" fill="#01255f"/>
<rect x="522" y="562.00" width="18.5" height="8.50" fill="#01265e"/>
<rect x="522" y="570.00" width="18.5" height="8.50" fill="#01275d"/>
<rect x="522" y="578.00" width="18.5" height="8.50" fill="#01285c"/>
<rect x="522" y="586.00" width="18.5" height="8.50" fill="#01295b"/>
<rect x="522" y="594.00" width="18.5" height="8.50" fill="#001074"/>
<rect x="522" y="602.00" width="18.5" height="8.50" fill="#00057f"/>
<rect x="522" y="610.00" width="18.5" height="8.50" fill="#040082"/>
<rect x="522" y="618.00" width="18.5" height="8.50" fill="#0c007d"/>
<rect x="522" y="626.00" width="18.5" height="8.50" fill="#170077"/>
<rect x="522" y="634.00" width="18.5" height="8.50" fill="#25006a"/>
<rect x="522" y="642.00" width="18.5" height="8.50" fill="#370056"/>
<rect x="522" y="650.00" width="18.5" height="8.50" fill="#40004a"/>
<rect x="522" y="658.00" width="18.5" height="8.50" fill="#3b0043"/>
<rect x="522" y="666.00" width="18.5" height="8.50" fill="#36003e"/>
<rect x="522" y="674.00" width="18.5" height="8.50" fill="#320039"/>
<rect x="522" y="682.00" width="18.5" height="8.50" fill="#2e0035"/>
<rect x="522" y="690.00" width="18.5" height="8.50" fill="#2a0031"/>
<rect x="522" y="698.00" width="18.5" height="8.50" fill="#27002d"/>
<rect x="522" y="706.00" width="18.5" height="8.50" fill="#25002a"/>
<rect x="522" y="714.00" width="18.5" height="8.50" fill="#230028"/>
<rect x="522" y="722.00" width="18.5" height="8.50" fill="#210025"/>
<rect x="522" y="730.00" width="18.5" height="8.50" fill="#1f0023"/>
<rect x="522" y="738.00" width="18.5" height="8.50" fill="#1d0022"/>
<rect x="522" y="746.00" width="18.5" height="8.50" fill="#1c0020"/>
<rect x="522" y="754.00" width="18.5" height="8.50" fill="#1b001e"/>
<rect x="522" y="762.00" width="18.5" height="8.50" fill="#19001d"/>
<rect x="522" y="770.00" width="18.5" height="48.00" fill="#070009"/>
<rect x="540" y="170.00" width="18.5" height="64.50" fill="#030004"/>
<rect x="540" y="234.00" width="18.5" height="8.50" fill="#110014"/>
<rect x="540" y="242.00" width="18.5" height="8.50" fill="#120014"/>
<rect x="540" y="250.00" width="18.5" height="8.50" fill="#120015"/>
<rect x="540" y="258.00" width="18.5" height="8.50" fill="#130016"/>
<rect x="540" y="266.00" width="18.5" height="16.50" fill="#140017"/>
<rect x="540" y="282.00" width="18.5" height="8.50" fill="#150018"/>
<rect x="540" y="290.00" width="18.5" height="8.50" fill="#160019"/>
<rect x="540" y="298.00" width="18.5" height="8.50" fill="#16001a"/>
<rect x="540" y="306.00" width="18.5" height="8.50" fill="#17001b"/>
<rect x="540" y="314.00" width="18.5" height="8.50" fill="#18001b"/>
<rect x="540" y="322.00" width="18.5" height="8.50" fill="#1b001f"/>
<rect x="540" y="330.00" width="18.5" height="8.50" fill="#200025"/>
<rect x="540" y="338.00" width="18.5" height="8.50" fill="#26002b"/>
<rect x="540" y="346.00" width="18.5" height="8.50" fill="#2b0032"/>
<rect x="540" y="354.00" width="18.5" height="8.50" fill="#33003a"/>
<rect x="540" y="362.00" width="18.5" height="8.50" fill="#3b0043"/>
<rect x="540" y="370.00" width="18.5" height="8.50" fill="#43004c"/>
<rect x="540" y="378.00" width="18.5" height="8.50" fill="#32005a"/>
<rect x="540" y="386.00" width="18.5" height="8.50" fill="#2b0062"/>
<rect x="540" y="394.00" width="18.5" height="8.50" fill="#22006d"/>
<rect x="540" y="402.00" width="18.5" height="8.50" fill="#1a0075"/>
<rect x="540" y="410.00" width="18.5" height="8.50" fill="#130079"/>
<rect x="540" y="418.00" width="18.5" height="8.50" fill="#0d007d"/>
<rect x="540" y="426.00" width="18.5" height="8.50" fill="#070080"/>
<rect x="540" y="434.00" width="18.5" height="8.50" fill="#020083"/>
<rect x="540" y="442.00" width="18.5" height="16.50" fill="#000381"/>
<rect x="540" y="458.00" width="18.5" height="16.50" fill="#000282"/>
<rect x="540" y="474.00" width="18.5" height="16.50" fill="#000183"/>
<rect x="540" y="490.00" width="18.5" height="8.50" fill="#000084"/>
<rect x="540" y="498.00" width="18.5" height="8.50" fill="#000183"/>
<rect x="540" y="506.00" width="18.5" height="8.50" fill="#000282"/>
<rect x="540" y="514.00" width="18.5" height="8.50" fill="#000381"/>
<rect x="540" y="522.00" width="18.5" height="8.50" fill="#000480"/>
<rect x="540" y="530.00" width="18.5" height="8.50" fill="#00067e"/>
<rect x="540" y="538.00" width="18.5" height="8.50" fill="#00077d"/>
<rect x="540" y="546.00" width="18.5" height="8.50" fill="#00087c"/>
<rect x="540" y="554.00" width="18.5" height="8.50" fill="#00097b"/>
<rect x="540" y="562.00" width="18.5" height="8.50" fill="#000a7a"/>
<rect x="540" y="570.00" width="18.5" height="8.50" fill="#000b79"/>
<rect x="540" y="578.00" width="18.5" height="16.50" fill="#000a7a"/>
<rect x="540" y="594.00" width="18.5" height="8.50" fill="#00097b"/>
<rect x="540" y="602.00" width="18.5" height="8.50" fill="#00087c"/>
<rect x="540" y="610.00" width="18.5" height="8.50" fill="#000381"/>
<rect x="540" y="618.00" width="18.5" height="8.50" fill="#040082"/>
<rect x="540" y="626.00" width="18.5" height="8.50" fill="#0a007e"/>
<rect x="540" y="634.00" width="18.5" height="8.50" fill="#12007a"/>
<rect x="540" y="642.00" width="18.5" height="8.50" fill="#1c0074"/>
<rect x="540" y="650.00" width="18.5" height="8.50" fill="#2c0061"/>
<rect x="540" y="658.00" width="18.5" height="8.50" fill="#3e0052"/>
<rect x="540" y="666.00" width="18.5" height="8.50" fill="#400049"/>
<rect x="540" y="674.00" width="18.5" height="8.50" fill="#3b0043"/>
<rect x="540" y="682.00" width="18.5" height="8.50" fill="#36003e"/>
<rect x="540" y="690.00" width="18.5" height="8.50" fill="#320039"/>
<rect x="540" y="698.00" width="18.5" height="8.50" fill="#2e0035"/>
<rect x="540" y="706.00" width="18.5" height="8.50" fill="#2a0031"/>
<rect x="540" y="714.00" width="18.5" height="8.50" fill="#28002e"/>
<rect x="540" y="722.00" width="18.5" height="8.50" fill="#26002b"/>
<rect x="540" y="730.00" width="18.5" height="8.50" fill="#230029"/>
<rect x="540" y="738.00" width="18.5" height="8.50" fill="#220027"/>
<rect x="540" y="746.00" width="18.5" height="8.50" fill="#200025"/>
<rect x="540" y="754.00" width="18.5" height="8.50" fill="#1e0023"/>
<rect x="540" y="762.00" width="18.5" height="8.50" fill="#1d0021"/>
<rect x="540" y="770.00" width="18.5" height="8.50" fill="#1b001f"/>
<rect x="540" y="778.00" width="18.5" height="8.50" fill="#19001d"/>
<rect x="540" y="786.00" width="18.5" height="32.00" fill="#070009"/>
<rect x="558" y="170.00" width="18.5" height="80.50" fill="#030004"/>
<rect x="558" y="250.00" width="18.5" height="8.50" fill="#110014"/>
<rect x="558" y="258.00" width="18.5" height="8.50" fill="#120015"/>
<rect x="558" y="266.00" width="18.5" height="8.50" fill="#130016"/>
<rect x="558" y="274.00" width="18.5" height="8.50" fill="#140017"/>
<rect x="558" y="282.00" width="18.5" height="8.50" fill="#150018"/>
<rect x="558" y="290.00" width="18.5" height="8.50" fill="#160019"/>
<rect x="558" y="298.00" width="18.5" height="8.50" fill="#16001a"/>
<rect x="558" y="306.00" width="18.5" height="8.50" fill="#18001c"/>
<rect x="558" y="314.00" width="18.5" height="8.50" fill="#1a001d"/>
<rect x="558" y="322.00" width="18.5" height="8.50" fill="#1b001f"/>
<rect x="558" y="330.00" width="18.5" height="8.50" fill="#1f0024"/>
<rect x="558" y="338.00" width="18.5" height="8.50" fill="#230028"/>
<rect x="558" y="346.00" width="18.5" height="8.50" fill="#27002d"/>
<rect x="558" y="354.00" width="18.5" height="8.50" fill="#2c0033"/>
<rect x="558" y="362.00" width="18.5" height="8.50" fill="#320039"/>
<rect x="558" y="370.00" width="18.5" height="8.50" fill="#380040"/>
<rect x="558" y="378.00" width="18.5" height="8.50" fill="#3e0048"/>
<rect x="558" y="386.00" width="18.5" height="8.50" fill="#44004e"/>
<rect x="558" y="394.00" width="18.5" height="8.50" fill="#30005c"/>
<rect x="558" y="402.00" width="18.5" height="8.50" fill="#280067"/>
<rect x="558" y="410.00" width="18.5" height="8.50" fill="#1f0071"/>
<rect x="558" y="418.00" width="18.5" height="8.50" fill="#170077"/>
<rect x="558" y="426.00" width="18.5" height="8.50" fill="#10007b"/>
<rect x="558" y="434.00" width="18.5" height="8.50" fill="#09007f"/>
<rect x="558" y="442.00" width="18.5" height="8.50" fill="#040082"/>
<rect x="558" y="450.00" width="18.5" height="8.50" fill="#00087c"/>
<rect x="558" y="458.00" width="18.5" height="24.50" fill="#001371"/>
<rect x="558" y="482.00" width="18.5" height="8.50" fill="#001173"/>
<rect x="558" y="490.00" width="18.5" height="8.50" fill="#000f75"/>
<rect x="558" y="498.00" width="18.5" height="8.50" fill="#000c78"/>
<rect x="558" y="506.00" width="18.5" height="8.50" fill="#000a7a"/>
<rect x="558" y="514.00" width="18.5" height="8.50" fill="#00077d"/>
<rect x="558" y="522.00" width="18.5" height="8.50" fill="#00057f"/>
<rect x="558" y="530.00" width="18.5" height="8.50" fill="#000282"/>
<rect x="558" y="538.00" width="18.5" height="88.50" fill="#000084"/>
<rect x="558" y="626.00" width="18.5" height="8.50" fill="#030082"/>
<rect x="558" y="634.00" width="18.5" height="8.50" fill="#08007f"/>
<rect x="558" y="642.00" width="18.5" height="8.50" fill="#10007b"/>
<rect x="558" y="650.00" width="18.5" height="8.50" fill="#190076"/>
<rect x="558" y="658.00" width="18.5" height="8.50" fill="#270068"/>
<rect x="558" y="666.00" width="18.5" height="8.50" fill="#330059"/>
<rect x="558" y="674.00" width="18.5" height="8.50" fill="#42004c"/>
<rect x="558" y="682.00" width="18.5" height="8.50" fill="#3e0047"/>
<rect x="558" y="690.00" width="18.5" height="8.50" fill="#390041"/>
<rect x="558" y="698.00" width="18.5" height="8.50" fill="#34003c"/>
<rect x="558" y="706.00" width="18.5" height="8.50" fill="#310039"/>
<rect x="558" y="714.00" width="18.5" height="8.50" fill="#2e0035"/>
<rect x="558" y="722.00" width="18.5" height="8.50" fill="#2b0032"/>
<rect x="558" y="730.00" width="18.5" height="8.50" fill="#29002f"/>
<rect x="558" y="738.00" width="18.5" height="8.50" fill="#26002b"/>
<rect x="558" y="746.00" width="18.5" height="8.50" fill="#230028"/>
<rect x="558" y="754.00" width="18.5" height="8.50" fill="#210025"/>
<rect x="558" y="762.00" width="18.5" height="8.50" fill="#1f0024"/>
<rect x="558" y="770.00" width="18.5" height="8.50" fill="#1e0022"/>
<rect x="558" y="778.00" width="18.5" height="8.50" fill="#1c0020"/>
<rect x="558" y="786.00" width="18.5" height="8.50" fill="#1b001f"/>
<rect x="558" y="794.00" width="18.5" height="8.50" fill="#19001d"/>
<rect x="558" y="802.00" width="18.5" height="16.00" fill="#070009"/>
<rect x="576" y="170.00" width="18.5" height="96.50" fill="#030004"/>
<rect x="576" y="266.00" width="18.5" height="8.50" fill="#110014"/>
<rect x="576" y="274.00" width="18.5" height="8.50" fill="#120014"/>
<rect x="576" y="282.00" width="18.5" height="8.50" fill="#130015"/>
<rect x="576" y="290.00" width="18.5" height="8.50" fill="#130016"/>
<rect x="576" y="298.00" width="18.5" height="8.50" fill="#140017"/>
<rect x="576" y="306.00" width="18.5" height="8.50" fill="#150018"/>
<rect x="576" y="314.00" width="18.5" height="8.50" fill="#160019"/>
<rect x="576" y="322.00" width="18.5" height="8.50" fill="#16001a"/>
<rect x="576" y="330.00" width="18.5" height="8.50" fill="#19001d"/>
<rect x="576" y="338.00" width="18.5" height="8.50" fill="#1c0020"/>
<rect x="576" y="346.00" width="18.5" height="8.50" fill="#1f0024"/>
<rect x="576" y="354.00" width="18.5" height="8.50" fill="#220027"/>
<rect x="576" y="362.00" width="18.5" height="8.50" fill="#27002c"/>
<rect x="576" y="370.00" width="18.5" height="8.50" fill="#2b0032"/>
<rect x="576" y="378.00" width="18.5" height="8.50" fill="#300037"/>
<rect x="576" y="386.00" width="18.5" height="8.50" fill="#37003f"/>
<rect x="576" y="394.00" width="18.5" height="8.50" fill="#3e0048"/>
<rect x="576" y="402.00" width="18.5" height="8.50" fill="#44004e"/>
<rect x="576" y="410.00" width="18.5" height="8.50" fill="#31005b"/>
<rect x="576" y="418.00" width="18.5" height="8.50" fill="#290064"/>
<rect x="576" y="426.00" width="18.5" height="8.50" fill="#20006f"/>
<rect x="576" y="434.00" width="18.5" height="8.50" fill="#180076"/>
<rect x="576" y="442.00" width="18.5" height="8.50" fill="#12007a"/>
<rect x="576" y="450.00" width="18.5" height="8.50" fill="#0a007e"/>
<rect x="576" y="458.00" width="18.5" height="8.50" fill="#040082"/>
<rect x="576" y="466.00" width="18.5" height="16.50" fill="#000b79"/>
<rect x="576" y="482.00" width="18.5" height="8.50" fill="#000282"/>
<rect x="576" y="490.00" width="18.5" height="8.50" fill="#040082"/>
<rect x="576" y="498.00" width="18.5" height="8.50" fill="#050081"/>
<rect x="576" y="506.00" width="18.5" height="8.50" fill="#060081"/>
<rect x="576" y="514.00" width="18.5" height="8.50" fill="#070080"/>
<rect x="576" y="522.00" width="18.5" height="8.50" fill="#08007f"/>
<rect x="576" y="530.00" width="18.5" height="8.50" fill="#09007f"/>
<rect x="576" y="538.00" width="18.5" height="40.50" fill="#0a007e"/>
<rect x="576" y="578.00" width="18.5" height="8.50" fill="#0a007f"/>
<rect x="576" y="586.00" width="18.5" height="16.50" fill="#09007f"/>
<rect x="576" y="602.00" width="18.5" height="8.50" fill="#050081"/>
<rect x="576" y="610.00" width="18.5" height="8.50" fill="#040081"/>
<rect x="576" y="618.00" width="18.5" height="16.50" fill="#040082"/>
<rect x="576" y="634.00" width="18.5" height="8.50" fill="#070080"/>
<rect x="576" y="642.00" width="18.5" height="8.50" fill="#0e007c"/>
<rect x="576" y="650.00" width="18.5" height="8.50" fill="#150078"/>
<rect x="576" y="658.00" width="18.5" height="8.50" fill="#200070"/>
<rect x="576" y="666.00" width="18.5" height="8.50" fill="#2a0063"/>
<rect x="576" y="674.00" width="18.5" height="8.50" fill="#3e0052"/>
<rect x="576" y="682.00" width="18.5" height="8.50" fill="#400049"/>
<rect x="576" y="690.00" width="18.5" height="8.50" fill="#3b0044"/>
<rect x="576" y="698.00" width="18.5" height="8.50" fill="#37003f"/>
<rect x="576" y="706.00" width="18.5" height="8.50" fill="#33003a"/>
<rect x="576" y="714.00" width="18.5" height="8.50" fill="#2f0036"/>
<rect x="576" y="722.00" width="18.5" height="8.50" fill="#2c0032"/>
<rect x="576" y="730.00" width="18.5" height="8.50" fill="#28002e"/>
<rect x="576" y="738.00" width="18.5" height="8.50" fill="#26002c"/>
<rect x="576" y="746.00" width="18.5" height="8.50" fill="#240029"/>
<rect x="576" y="754.00" width="18.5" height="8.50" fill="#220027"/>
<rect x="576" y="762.00" width="18.5" height="8.50" fill="#200024"/>
<rect x="576" y="770.00" width="18.5" height="8.50" fill="#1d0022"/>
<rect x="576" y="778.00" width="18.5" height="8.50" fill="#1b001f"/>
<rect x="576" y="786.00" width="18.5" height="8.50" fill="#1a001d"/>
<rect x="576" y="794.00" width="18.5" height="8.50" fill="#18001b"/>
<rect x="576" y="802.00" width="18.5" height="8.50" fill="#160019"/>
<rect x="576" y="810.00" width="18.5" height="8.00" fill="#140017"/>
<rect x="594" y="170.00" width="18.5" height="112.50" fill="#030004"/>
<rect x="594" y="282.00" width="18.5" height="8.50" fill="#100012"/>
<rect x="594" y="290.00" width="18.5" height="8.50" fill="#100013"/>
<rect x="594" y="298.00" width="18.5" height="8.50" fill="#110014"/>
<rect x="594" y="306.00" width="18.5" height="8.50" fill="#120014"/>
<rect x="594" y="314.00" width="18.5" height="8.50" fill="#120015"/>
<rect x="594" y="322.00" width="18.5" height="8.50" fill="#130016"/>
<rect x="594" y="330.00" width="18.5" height="8.50" fill="#150018"/>
<rect x="594" y="338.00" width="18.5" height="8.50" fill="#17001b"/>
<rect x="594" y="346.00" width="18.5" height="8.50" fill="#19001d"/>
<rect x="594" y="354.00" width="18.5" height="8.50" fill="#1b001f"/>
<rect x="594" y="362.00" width="18.5" height="8.50" fill="#1d0022"/>
<rect x="594" y="370.00" width="18.5" height="8.50" fill="#210026"/>
<rect x="594" y="378.00" width="18.5" height="8.50" fill="#25002b"/>
<rect x="594" y="386.00" width="18.5" height="8.50" fill="#29002f"/>
<rect x="594" y="394.00" width="18.5" height="8.50" fill="#300037"/>
<rect x="594" y="402.00" width="18.5" height="8.50" fill="#37003f"/>
<rect x="594" y="410.00" width="18.5" height="8.50" fill="#3e0048"/>
<rect x="594" y="418.00" width="18.5" height="8.50" fill="#340058"/>
<rect x="594" y="426.00" width="18.5" height="8.50" fill="#2b0062"/>
<rect x="594" y="434.00" width="18.5" height="8.50" fill="#22006d"/>
<rect x="594" y="442.00" width="18.5" height="8.50" fill="#1a0075"/>
<rect x="594" y="450.00" width="18.5" height="8.50" fill="#150078"/>
<rect x="594" y="458.00" width="18.5" height="56.50" fill="#12007a"/>
<rect x="594" y="514.00" width="18.5" height="16.50" fill="#130079"/>
<rect x="594" y="530.00" width="18.5" height="8.50" fill="#140079"/>
<rect x="594" y="538.00" width="18.5" height="8.50" fill="#140078"/>
<rect x="594" y="546.00" width="18.5" height="32.50" fill="#150078"/>
<rect x="594" y="578.00" width="18.5" height="24.50" fill="#160078"/>
<rect x="594" y="602.00" width="18.5" height="24.50" fill="#160077"/>
<rect x="594" y="626.00" width="18.5" height="8.50" fill="#180077"/>
<rect x="594" y="634.00" width="18.5" height="8.50" fill="#190076"/>
<rect x="594" y="642.00" width="18.5" height="8.50" fill="#1a0075"/>
<rect x="594" y="650.00" width="18.5" height="8.50" fill="#1f0071"/>
<rect x="594" y="658.00" width="18.5" height="8.50" fill="#270068"/>
<rect x="594" y="666.00" width="18.5" height="8.50" fill="#31005b"/>
<rect x="594" y="674.00" width="18.5" height="8.50" fill="#44004e"/>
<rect x="594" y="682.00" width="18.5" height="8.50" fill="#3e0048"/>
<rect x="594" y="690.00" width="18.5" height="8.50" fill="#390041"/>
<rect x="594" y="698.00" width="18.5" height="8.50" fill="#34003b"/>
<rect x="594" y="706.00" width="18.5" height="8.50" fill="#300037"/>
<rect x="594" y="714.00" width="18.5" height="8.50" fill="#2c0032"/>
<rect x="594" y="722.00" width="18.5" height="8.50" fill="#28002e"/>
<rect x="594" y="730.00" width="18.5" height="8.50" fill="#240029"/>
<rect x="594" y="738.00" width="18.5" height="8.50" fill="#220028"/>
<rect x="594" y="746.00" width="18.5" height="8.50" fill="#210026"/>
<rect x="594" y="754.00" width="18.5" height="8.50" fill="#1f0024"/>
<rect x="594" y="762.00" width="18.5" height="8.50" fill="#1e0022"/>
<rect x="594" y="770.00" width="18.5" height="8.50" fill="#1c0020"/>
<rect x="594" y="778.00" width="18.5" height="8.50" fill="#1b001f"/>
<rect x="594" y="786.00" width="18.5" height="8.50" fill="#19001d"/>
<rect x="594" y="794.00" width="18.5" height="8.50" fill="#18001b"/>
<rect x="594" y="802.00" width="18.5" height="8.50" fill="#160019"/>
<rect x="594" y="810.00" width="18.5" height="8.00" fill="#140017"/>
<rect x="612" y="170.00" width="18.5" height="120.50" fill="#030004"/>
<rect x="612" y="290.00" width="18.5" height="8.50" fill="#100013"/>
<rect x="612" y="298.00" width="18.5" height="8.50" fill="#110014"/>
<rect x="612" y="306.00" width="18.5" height="8.50" fill="#120015"/>
<rect x="612" y="314.00" width="18.5" height="8.50" fill="#140016"/>
<rect x="612" y="322.00" width="18.5" height="8.50" fill="#150018"/>
<rect x="612" y="330.00" width="18.5" height="8.50" fill="#160019"/>
<rect x="612" y="338.00" width="18.5" height="8.50" fill="#17001a"/>
<rect x="612" y="346.00" width="18.5" height="8.50" fill="#18001b"/>
<rect x="612" y="354.00" width="18.5" height="8.50" fill="#19001d"/>
<rect x="612" y="362.00" width="18.5" height="8.50" fill="#1b001f"/>
<rect x="612" y="370.00" width="18.5" height="8.50" fill="#1c0021"/>
<rect x="612" y="378.00" width="18.5" height="8.50" fill="#1e0022"/>
<rect x="612" y="386.00" width="18.5" height="8.50" fill="#220027"/>
<rect x="612" y="394.00" width="18.5" height="8.50" fill="#26002c"/>
<rect x="612" y="402.00" width="18.5" height="8.50" fill="#2a0031"/>
<rect x="612" y="410.00" width="18.5" height="8.50" fill="#2f0036"/>
<rect x="612" y="418.00" width="18.5" height="8.50" fill="#35003d"/>
<rect x="612" y="426.00" width="18.5" height="8.50" fill="#3b0044"/>
<rect x="612" y="434.00" width="18.5" height="8.50" fill="#42004c"/>
<rect x="612" y="442.00" width="18.5" height="8.50" fill="#340058"/>
<rect x="612" y="450.00" width="18.5" height="8.50" fill="#2e005f"/>
<rect x="612" y="458.00" width="18.5" height="8.50" fill="#280065"/>
<rect x="612" y="466.00" width="18.5" height="8.50" fill="#270067"/>
<rect x="612" y="474.00" width="18.5" height="8.50" fill="#260069"/>
<rect x="612" y="482.00" width="18.5" height="8.50" fill="#270067"/>
<rect x="612" y="490.00" width="18.5" height="8.50" fill="#280065"/>
<rect x="612" y="498.00" width="18.5" height="8.50" fill="#290065"/>
<rect x="612" y="506.00" width="18.5" height="16.50" fill="#2a0064"/>
<rect x="612" y="522.00" width="18.5" height="8.50" fill="#2b0063"/>
<rect x="612" y="530.00" width="18.5" height="8.50" fill="#2b0062"/>
<rect x="612" y="538.00" width="18.5" height="8.50" fill="#2c0062"/>
<rect x="612" y="546.00" width="18.5" height="8.50" fill="#2c0061"/>
<rect x="612" y="554.00" width="18.5" height="8.50" fill="#2d0061"/>
<rect x="612" y="562.00" width="18.5" height="8.50" fill="#2d0060"/>
<rect x="612" y="570.00" width="18.5" height="24.50" fill="#2e005f"/>
<rect x="612" y="594.00" width="18.5" height="8.50" fill="#2e005e"/>
<rect x="612" y="602.00" width="18.5" height="24.50" fill="#2f005e"/>
<rect x="612" y="626.00" width="18.5" height="8.50" fill="#2f005d"/>
<rect x="612" y="634.00" width="18.5" height="8.50" fill="#30005d"/>
<rect x="612" y="642.00" width="18.5" height="8.50" fill="#31005c"/>
<rect x="612" y="650.00" width="18.5" height="8.50" fill="#32005a"/>
<rect x="612" y="658.00" width="18.5" height="8.50" fill="#390055"/>
<rect x="612" y="666.00" width="18.5" height="8.50" fill="#44004e"/>
<rect x="612" y="674.00" width="18.5" height="8.50" fill="#3e0048"/>
<rect x="612" y="682.00" width="18.5" height="8.50" fill="#3a0042"/>
<rect x="612" y="690.00" width="18.5" height="8.50" fill="#35003d"/>
<rect x="612" y="698.00" width="18.5" height="8.50" fill="#300037"/>
<rect x="612" y="706.00" width="18.5" height="8.50" fill="#2c0032"/>
<rect x="612" y="714.00" width="18.5" height="8.50" fill="#27002d"/>
<rect x="612" y="722.00" width="18.5" height="8.50" fill="#24002a"/>
<rect x="612" y="730.00" width="18.5" height="8.50" fill="#220027"/>
<rect x="612" y="738.00" width="18.5" height="8.50" fill="#1f0024"/>
<rect x="612" y="746.00" width="18.5" height="8.50" fill="#1d0021"/>
<rect x="612" y="754.00" width="18.5" height="8.50" fill="#1b001f"/>
<rect x="612" y="762.00" width="18.5" height="8.50" fill="#1a001d"/>
<rect x="612" y="770.00" width="18.5" height="8.50" fill="#18001c"/>
<rect x="612" y="778.00" width="18.5" height="8.50" fill="#17001a"/>
<rect x="612" y="786.00" width="18.5" height="8.50" fill="#150018"/>
<rect x="612" y="794.00" width="18.5" height="8.50" fill="#140017"/>
<rect x="612" y="802.00" width="18.5" height="8.50" fill="#120015"/>
<rect x="612" y="810.00" width="18.5" height="8.00" fill="#110014"/>
<rect x="630" y="170.00" width="18.5" height="128.50" fill="#030004"/>
<rect x="630" y="298.00" width="18.5" height="8.50" fill="#0f0011"/>
<rect x="630" y="306.00" width="18.5" height="8.50" fill="#0f0012"/>
<rect x="630" y="314.00" width="18.5" height="8.50" fill="#100012"/>
<rect x="630" y="322.00" width="18.5" height="8.50" fill="#100013"/>
<rect x="630" y="330.00" width="18.5" height="8.50" fill="#110013"/>
<rect x="630" y="338.00" width="18.5" height="8.50" fill="#110014"/>
<rect x="630" y="346.00" width="18.5" height="8.50" fill="#120014"/>
<rect x="630" y="354.00" width="18.5" height="8.50" fill="#120015"/>
<rect x="630" y="362.00" width="18.5" height="16.50" fill="#130016"/>
<rect x="630" y="378.00" width="18.5" height="8.50" fill="#140017"/>
<rect x="630" y="386.00" width="18.5" height="8.50" fill="#160019"/>
<rect x="630" y="394.00" width="18.5" height="8.50" fill="#18001c"/>
<rect x="630" y="402.00" width="18.5" height="8.50" fill="#1a001e"/>
<rect x="630" y="410.00" width="18.5" height="8.50" fill="#1d0021"/>
<rect x="630" y="418.00" width="18.5" height="8.50" fill="#1f0023"/>
<rect x="630" y="426.00" width="18.5" height="8.50" fill="#210025"/>
<rect x="630" y="434.00" width="18.5" height="8.50" fill="#230028"/>
<rect x="630" y="442.00" width="18.5" height="8.50" fill="#25002a"/>
<rect x="630" y="450.00" width="18.5" height="8.50" fill="#27002d"/>
<rect x="630" y="458.00" width="18.5" height="8.50" fill="#2a0030"/>
<rect x="630" y="466.00" width="18.5" height="8.50" fill="#2c0033"/>
<rect x="630" y="474.00" width="18.5" height="8.50" fill="#2f0036"/>
<rect x="630" y="482.00" width="18.5" height="8.50" fill="#310038"/>
<rect x="630" y="490.00" width="18.5" height="8.50" fill="#32003a"/>
<rect x="630" y="498.00" width="18.5" height="8.50" fill="#33003b"/>
<rect x="630" y="506.00" width="18.5" height="8.50" fill="#34003c"/>
<rect x="630" y="514.00" width="18.5" height="8.50" fill="#35003d"/>
<rect x="630" y="522.00" width="18.5" height="8.50" fill="#36003d"/>
<rect x="630" y="530.00" width="18.5" height="8.50" fill="#36003e"/>
<rect x="630" y="538.00" width="18.5" height="8.50" fill="#37003f"/>
<rect x="630" y="546.00" width="18.5" height="24.50" fill="#380040"/>
<rect x="630" y="570.00" width="18.5" height="8.50" fill="#380041"/>
<rect x="630" y="578.00" width="18.5" height="16.50" fill="#390041"/>
<rect x="630" y="594.00" width="18.5" height="64.50" fill="#390042"/>
<rect x="630" y="658.00" width="18.5" height="8.50" fill="#380041"/>
<rect x="630" y="666.00" width="18.5" height="8.50" fill="#380040"/>
<rect x="630" y="674.00" width="18.5" height="8.50" fill="#37003f"/>
<rect x="630" y="682.00" width="18.5" height="8.50" fill="#36003e"/>
<rect x="630" y="690.00" width="18.5" height="8.50" fill="#310038"/>
<rect x="630" y="698.00" width="18.5" height="8.50" fill="#2d0033"/>
<rect x="630" y="706.00" width="18.5" height="8.50" fill="#29002f"/>
<rect x="630" y="714.00" width="18.5" height="8.50" fill="#26002b"/>
<rect x="630" y="722.00" width="18.5" height="8.50" fill="#230028"/>
<rect x="630" y="730.00" width="18.5" height="8.50" fill="#200025"/>
<rect x="630" y="738.00" width="18.5" height="8.50" fill="#1e0022"/>
<rect x="630" y="746.00" width="18.5" height="8.50" fill="#1b001f"/>
<rect x="630" y="754.00" width="18.5" height="8.50" fill="#1a001d"/>
<rect x="630" y="762.00" width="18.5" height="8.50" fill="#18001b"/>
<rect x="630" y="770.00" width="18.5" height="8.50" fill="#160019"/>
<rect x="630" y="778.00" width="18.5" height="8.50" fill="#140017"/>
<rect x="630" y="786.00" width="18.5" height="8.50" fill="#130015"/>
<rect x="630" y="794.00" width="18.5" height="8.50" fill="#110014"/>
<rect x="630" y="802.00" width="18.5" height="8.50" fill="#0f0012"/>
<rect x="630" y="810.00" width="18.5" height="8.00" fill="#0e0010"/>
<rect x="648" y="170.00" width="18.5" height="128.50" fill="#030004"/>
<rect x="648" y="298.00" width="18.5" height="24.50" fill="#0a000b"/>
<rect x="648" y="322.00" width="18.5" height="16.50" fill="#0a000c"/>
<rect x="648" y="338.00" width="18.5" height="16.50" fill="#0b000c"/>
<rect x="648" y="354.00" width="18.5" height="24.50" fill="#0b000d"/>
<rect x="648" y="378.00" width="18.5" height="8.50" fill="#0c000d"/>
<rect x="648" y="386.00" width="18.5" height="8.50" fill="#0c000e"/>
<rect x="648" y="394.00" width="18.5" height="8.50" fill="#0d000f"/>
<rect x="648" y="402.00" width="18.5" height="8.50" fill="#0e0010"/>
<rect x="648" y="410.00" width="18.5" height="8.50" fill="#0f0011"/>
<rect x="648" y="418.00" width="18.5" height="8.50" fill="#100012"/>
<rect x="648" y="426.00" width="18.5" height="8.50" fill="#100013"/>
<rect x="648" y="434.00" width="18.5" height="8.50" fill="#110014"/>
<rect x="648" y="442.00" width="18.5" height="8.50" fill="#120015"/>
<rect x="648" y="450.00" width="18.5" height="8.50" fill="#130015"/>
<rect x="648" y="458.00" width="18.5" height="8.50" fill="#130016"/>
<rect x="648" y="466.00" width="18.5" height="8.50" fill="#140017"/>
<rect x="648" y="474.00" width="18.5" height="8.50" fill="#150018"/>
<rect x="648" y="482.00" width="18.5" height="8.50" fill="#160019"/>
<rect x="648" y="490.00" width="18.5" height="8.50" fill="#16001a"/>
<rect x="648" y="498.00" width="18.5" height="8.50" fill="#17001a"/>
<rect x="648" y="506.00" width="18.5" height="8.50" fill="#17001b"/>
<rect x="648" y="514.00" width="18.5" height="16.50" fill="#18001b"/>
<rect x="648" y="530.00" width="18.5" height="8.50" fill="#18001c"/>
<rect x="648" y="538.00" width="18.5" height="8.50" fill="#19001c"/>
<rect x="648" y="546.00" width="18.5" height="16.50" fill="#19001d"/>
<rect x="648" y="562.00" width="18.5" height="24.50" fill="#1a001e"/>
<rect x="648" y="586.00" width="18.5" height="24.50" fill="#1b001f"/>
<rect x="648" y="610.00" width="18.5" height="48.50" fill="#1c0020"/>
<rect x="648" y="658.00" width="18.5" height="8.50" fill="#1c0021"/>
<rect x="648" y="666.00" width="18.5" height="8.50" fill="#1d0021"/>
<rect x="648" y="674.00" width="18.5" height="8.50" fill="#1b001f"/>
<rect x="648" y="682.00" width="18.5" height="8.50" fill="#1a001e"/>
<rect x="648" y="690.00" width="18.5" height="8.50" fill="#19001d"/>
<rect x="648" y="698.00" width="18.5" height="8.50" fill="#18001b"/>
<rect x="648" y="706.00" width="18.5" height="8.50" fill="#16001a"/>
<rect x="648" y="714.00" width="18.5" height="8.50" fill="#150018"/>
<rect x="648" y="722.00" width="18.5" height="8.50" fill="#140017"/>
<rect x="648" y="730.00" width="18.5" height="8.50" fill="#120015"/>
<rect x="648" y="738.00" width="18.5" height="8.50" fill="#110014"/>
<rect x="648" y="746.00" width="18.5" height="8.50" fill="#100012"/>
<rect x="648" y="754.00" width="18.5" height="8.50" fill="#0f0011"/>
<rect x="648" y="762.00" width="18.5" height="16.50" fill="#0e0010"/>
<rect x="648" y="778.00" width="18.5" height="8.50" fill="#0d000f"/>
<rect x="648" y="786.00" width="18.5" height="8.50" fill="#0c000e"/>
<rect x="648" y="794.00" width="18.5" height="8.50" fill="#0c000d"/>
<rect x="648" y="802.00" width="18.5" height="8.50" fill="#0b000c"/>
<rect x="648" y="810.00" width="18.5" height="8.00" fill="#0a000c"/>
<rect x="666" y="170.00" width="18.5" height="120.50" fill="#030004"/>
<rect x="666" y="290.00" width="18.5" height="224.50" fill="#070008"/>
<rect x="666" y="514.00" width="18.5" height="24.50" fill="#080009"/>
<rect x="666" y="538.00" width="18.5" height="8.50" fill="#08000a"/>
<rect x="666" y="546.00" width="18.5" height="16.50" fill="#09000a"/>
<rect x="666" y="562.00" width="18.5" height="8.50" fill="#09000b"/>
<rect x="666" y="570.00" width="18.5" height="24.50" fill="#0a000b"/>
<rect x="666" y="594.00" width="18.5" height="16.50" fill="#0a000c"/>
<rect x="666" y="610.00" width="18.5" height="16.50" fill="#0b000c"/>
<rect x="666" y="626.00" width="18.5" height="24.50" fill="#0b000d"/>
<rect x="666" y="650.00" width="18.5" height="8.50" fill="#0c000d"/>
<rect x="666" y="658.00" width="18.5" height="24.50" fill="#0b000d"/>
<rect x="666" y="682.00" width="18.5" height="16.50" fill="#0b000c"/>
<rect x="666" y="698.00" width="18.5" height="16.50" fill="#0a000c"/>
<rect x="666" y="714.00" width="18.5" height="24.50" fill="#0a000b"/>
<rect x="666" y="738.00" width="18.5" height="8.50" fill="#09000b"/>
<rect x="666" y="746.00" width="18.5" height="16.50" fill="#09000a"/>
<rect x="666" y="762.00" width="18.5" height="8.50" fill="#08000a"/>
<rect x="666" y="770.00" width="18.5" height="24.50" fill="#080009"/>
<rect x="666" y="794.00" width="18.5" height="24.00" fill="#070008"/>
<rect x="684" y="170.00" width="18.5" height="112.50" fill="#030004"/>
<rect x="684" y="282.00" width="18.5" height="104.50" fill="#0c000e"/>
<rect x="684" y="386.00" width="18.5" height="24.50" fill="#080009"/>
<rect x="684" y="410.00" width="18.5" height="56.50" fill="#070008"/>
<rect x="684" y="466.00" width="18.5" height="8.50" fill="#070007"/>
<rect x="684" y="474.00" width="18.5" height="120.50" fill="#060007"/>
<rect x="684" y="594.00" width="18.5" height="16.50" fill="#060006"/>
<rect x="684" y="610.00" width="18.5" height="104.50" fill="#050006"/>
<rect x="684" y="714.00" width="18.5" height="40.50" fill="#050005"/>
<rect x="684" y="754.00" width="18.5" height="64.00" fill="#040005"/>
<rect x="702" y="170.00" width="18.5" height="96.50" fill="#070009"/>
<rect x="702" y="266.00" width="18.5" height="120.50" fill="#18001b"/>
<rect x="702" y="386.00" width="18.5" height="8.50" fill="#17001a"/>
<rect x="702" y="394.00" width="18.5" height="8.50" fill="#160019"/>
<rect x="702" y="402.00" width="18.5" height="8.50" fill="#150018"/>
<rect x="702" y="410.00" width="18.5" height="8.50" fill="#140017"/>
<rect x="702" y="418.00" width="18.5" height="8.50" fill="#140016"/>
<rect x="702" y="426.00" width="18.5" height="8.50" fill="#130016"/>
<rect x="702" y="434.00" width="18.5" height="8.50" fill="#120015"/>
<rect x="702" y="442.00" width="18.5" height="8.50" fill="#110014"/>
<rect x="702" y="450.00" width="18.5" height="8.50" fill="#100013"/>
<rect x="702" y="458.00" width="18.5" height="8.50" fill="#100012"/>
<rect x="702" y="466.00" width="18.5" height="8.50" fill="#0f0011"/>
<rect x="702" y="474.00" width="18.5" height="16.50" fill="#0e0010"/>
<rect x="702" y="490.00" width="18.5" height="8.50" fill="#0d000f"/>
<rect x="702" y="498.00" width="18.5" height="8.50" fill="#0c000e"/>
<rect x="702" y="506.00" width="18.5" height="8.50" fill="#0c000d"/>
<rect x="702" y="514.00" width="18.5" height="8.50" fill="#0b000c"/>
<rect x="702" y="522.00" width="18.5" height="8.50" fill="#0a000c"/>
<rect x="702" y="530.00" width="18.5" height="8.50" fill="#09000b"/>
<rect x="702" y="538.00" width="18.5" height="8.50" fill="#09000a"/>
<rect x="702" y="546.00" width="18.5" height="8.50" fill="#080009"/>
<rect x="702" y="554.00" width="18.5" height="8.50" fill="#070008"/>
<rect x="702" y="562.00" width="18.5" height="8.50" fill="#060007"/>
<rect x="702" y="570.00" width="18.5" height="16.50" fill="#050006"/>
<rect x="702" y="586.00" width="18.5" height="8.50" fill="#050005"/>
<rect x="702" y="594.00" width="18.5" height="16.50" fill="#040005"/>
<rect x="702" y="610.00" width="18.5" height="8.50" fill="#040004"/>
<rect x="702" y="618.00" width="18.5" height="104.50" fill="#030004"/>
<rect x="702" y="722.00" width="18.5" height="96.00" fill="#030003"/>
<rect x="720" y="170.00" width="18.5" height="64.50" fill="#070009"/>
<rect x="720" y="234.00" width="18.5" height="24.50" fill="#230029"/>
<rect x="720" y="258.00" width="18.5" height="144.50" fill="#240029"/>
<rect x="720" y="402.00" width="18.5" height="8.50" fill="#230029"/>
<rect x="720" y="410.00" width="18.5" height="24.50" fill="#230028"/>
<rect x="720" y="434.00" width="18.5" height="24.50" fill="#220027"/>
<rect x="720" y="458.00" width="18.5" height="16.50" fill="#210026"/>
<rect x="720" y="474.00" width="18.5" height="16.50" fill="#200025"/>
<rect x="720" y="490.00" width="18.5" height="16.50" fill="#1f0024"/>
<rect x="720" y="506.00" width="18.5" height="8.50" fill="#1f0023"/>
<rect x="720" y="514.00" width="18.5" height="8.50" fill="#1d0022"/>
<rect x="720" y="522.00" width="18.5" height="8.50" fill="#1c0020"/>
<rect x="720" y="530.00" width="18.5" height="8.50" fill="#1b001f"/>
<rect x="720" y="538.00" width="18.5" height="8.50" fill="#1a001d"/>
<rect x="720" y="546.00" width="18.5" height="8.50" fill="#18001c"/>
<rect x="720" y="554.00" width="18.5" height="8.50" fill="#17001b"/>
<rect x="720" y="562.00" width="18.5" height="8.50" fill="#160019"/>
<rect x="720" y="570.00" width="18.5" height="8.50" fill="#140017"/>
<rect x="720" y="578.00" width="18.5" height="8.50" fill="#130016"/>
<rect x="720" y="586.00" width="18.5" height="8.50" fill="#120014"/>
<rect x="720" y="594.00" width="18.5" height="8.50" fill="#110014"/>
<rect x="720" y="602.00" width="18.5" height="8.50" fill="#110013"/>
<rect x="720" y="610.00" width="18.5" height="8.50" fill="#100013"/>
<rect x="720" y="618.00" width="18.5" height="16.50" fill="#100012"/>
<rect x="720" y="634.00" width="18.5" height="16.50" fill="#0f0011"/>
<rect x="720" y="650.00" width="18.5" height="8.50" fill="#0e0011"/>
<rect x="720" y="658.00" width="18.5" height="16.50" fill="#0e0010"/>
<rect x="720" y="674.00" width="18.5" height="8.50" fill="#0c000d"/>
<rect x="720" y="682.00" width="18.5" height="8.50" fill="#0a000b"/>
<rect x="720" y="690.00" width="18.5" height="8.50" fill="#080009"/>
<rect x="720" y="698.00" width="18.5" height="32.50" fill="#060007"/>
<rect x="720" y="730.00" width="18.5" height="8.50" fill="#060006"/>
<rect x="720" y="738.00" width="18.5" height="40.50" fill="#050006"/>
<rect x="720" y="778.00" width="18.5" height="16.50" fill="#050005"/>
<rect x="720" y="794.00" width="18.5" height="24.00" fill="#040005"/>
<rect x="738" y="170.00" width="18.5" height="40.50" fill="#070009"/>
<rect x="738" y="210.00" width="18.5" height="16.50" fill="#2b0032"/>
<rect x="738" y="226.00" width="18.5" height="16.50" fill="#2c0032"/>
<rect x="738" y="242.00" width="18.5" height="16.50" fill="#2c0033"/>
<rect x="738" y="258.00" width="18.5" height="16.50" fill="#2d0033"/>
<rect x="738" y="274.00" width="18.5" height="16.50" fill="#2d0034"/>
<rect x="738" y="290.00" width="18.5" height="8.50" fill="#2e0034"/>
<rect x="738" y="298.00" width="18.5" height="24.50" fill="#2e0035"/>
<rect x="738" y="322.00" width="18.5" height="8.50" fill="#2f0035"/>
<rect x="738" y="330.00" width="18.5" height="8.50" fill="#2f0036"/>
<rect x="738" y="338.00" width="18.5" height="8.50" fill="#300037"/>
<rect x="738" y="346.00" width="18.5" height="8.50" fill="#320039"/>
<rect x="738" y="354.00" width="18.5" height="8.50" fill="#33003a"/>
<rect x="738" y="362.00" width="18.5" height="8.50" fill="#34003c"/>
<rect x="738" y="370.00" width="18.5" height="8.50" fill="#36003e"/>
<rect x="738" y="378.00" width="18.5" height="8.50" fill="#37003f"/>
<rect x="738" y="386.00" width="18.5" height="24.50" fill="#380040"/>
<rect x="738" y="410.00" width="18.5" height="8.50" fill="#380041"/>
<rect x="738" y="418.00" width="18.5" height="24.50" fill="#390041"/>
<rect x="738" y="442.00" width="18.5" height="8.50" fill="#390042"/>
<rect x="738" y="450.00" width="18.5" height="16.50" fill="#3a0042"/>
<rect x="738" y="466.00" width="18.5" height="16.50" fill="#3a0043"/>
<rect x="738" y="482.00" width="18.5" height="16.50" fill="#3b0043"/>
<rect x="738" y="498.00" width="18.5" height="8.50" fill="#3a0043"/>
<rect x="738" y="506.00" width="18.5" height="8.50" fill="#3a0042"/>
<rect x="738" y="514.00" width="18.5" height="8.50" fill="#390042"/>
<rect x="738" y="522.00" width="18.5" height="8.50" fill="#390041"/>
<rect x="738" y="530.00" width="18.5" height="8.50" fill="#36003e"/>
<rect x="738" y="538.00" width="18.5" height="8.50" fill="#34003b"/>
<rect x="738" y="546.00" width="18.5" height="8.50" fill="#310038"/>
<rect x="738" y="554.00" width="18.5" height="8.50" fill="#2f0036"/>
<rect x="738" y="562.00" width="18.5" height="8.50" fill="#2c0033"/>
<rect x="738" y="570.00" width="18.5" height="8.50" fill="#2a0030"/>
<rect x="738" y="578.00" width="18.5" height="8.50" fill="#28002e"/>
<rect x="738" y="586.00" width="18.5" height="8.50" fill="#26002b"/>
<rect x="738" y="594.00" width="18.5" height="8.50" fill="#25002b"/>
<rect x="738" y="602.00" width="18.5" height="8.50" fill="#25002a"/>
<rect x="738" y="610.00" width="18.5" height="8.50" fill="#24002a"/>
<rect x="738" y="618.00" width="18.5" height="8.50" fill="#240029"/>
<rect x="738" y="626.00" width="18.5" height="8.50" fill="#230029"/>
<rect x="738" y="634.00" width="18.5" height="8.50" fill="#230028"/>
<rect x="738" y="642.00" width="18.5" height="8.50" fill="#220028"/>
<rect x="738" y="650.00" width="18.5" height="16.50" fill="#220027"/>
<rect x="738" y="666.00" width="18.5" height="16.50" fill="#210026"/>
<rect x="738" y="682.00" width="18.5" height="16.50" fill="#200025"/>
<rect x="738" y="698.00" width="18.5" height="8.50" fill="#200024"/>
<rect x="738" y="706.00" width="18.5" height="8.50" fill="#1f0024"/>
<rect x="738" y="714.00" width="18.5" height="16.50" fill="#1f0023"/>
<rect x="738" y="730.00" width="18.5" height="8.50" fill="#1e0023"/>
<rect x="738" y="738.00" width="18.5" height="8.50" fill="#1e0022"/>
<rect x="738" y="746.00" width="18.5" height="8.50" fill="#1d0022"/>
<rect x="738" y="754.00" width="18.5" height="16.50" fill="#1d0021"/>
<rect x="738" y="770.00" width="18.5" height="48.00" fill="#050006"/>
<rect x="756" y="170.00" width="18.5" height="24.50" fill="#070009"/>
<rect x="756" y="194.00" width="18.5" height="8.50" fill="#300037"/>
<rect x="756" y="202.00" width="18.5" height="8.50" fill="#300038"/>
<rect x="756" y="210.00" width="18.5" height="16.50" fill="#310038"/>
<rect x="756" y="226.00" width="18.5" height="8.50" fill="#310039"/>
<rect x="756" y="234.00" width="18.5" height="16.50" fill="#320039"/>
<rect x="756" y="250.00" width="18.5" height="8.50" fill="#32003a"/>
<rect x="756" y="258.00" width="18.5" height="8.50" fill="#33003a"/>
<rect x="756" y="266.00" width="18.5" height="16.50" fill="#33003b"/>
<rect x="756" y="282.00" width="18.5" height="8.50" fill="#34003b"/>
<rect x="756" y="290.00" width="18.5" height="8.50" fill="#35003d"/>
<rect x="756" y="298.00" width="18.5" height="8.50" fill="#37003f"/>
<rect x="756" y="306.00" width="18.5" height="8.50" fill="#380040"/>
<rect x="756" y="314.00" width="18.5" height="8.50" fill="#390042"/>
<rect x="756" y="322.00" width="18.5" height="8.50" fill="#3b0043"/>
<rect x="756" y="330.00" width="18.5" height="8.50" fill="#3c0045"/>
<rect x="756" y="338.00" width="18.5" height="8.50" fill="#3f0048"/>
<rect x="756" y="346.00" width="18.5" height="8.50" fill="#41004a"/>
<rect x="756" y="354.00" width="18.5" height="8.50" fill="#43004d"/>
<rect x="756" y="362.00" width="18.5" height="8.50" fill="#3e0052"/>
<rect x="756" y="370.00" width="18.5" height="8.50" fill="#350057"/>
<rect x="756" y="378.00" width="18.5" height="8.50" fill="#32005a"/>
<rect x="756" y="386.00" width="18.5" height="24.50" fill="#30005d"/>
<rect x="756" y="410.00" width="18.5" height="16.50" fill="#30005c"/>
<rect x="756" y="426.00" width="18.5" height="24.50" fill="#31005c"/>
<rect x="756" y="450.00" width="18.5" height="16.50" fill="#31005b"/>
<rect x="756" y="466.00" width="18.5" height="16.50" fill="#32005b"/>
<rect x="756" y="482.00" width="18.5" height="16.50" fill="#32005a"/>
<rect x="756" y="498.00" width="18.5" height="8.50" fill="#340058"/>
<rect x="756" y="506.00" width="18.5" height="8.50" fill="#390055"/>
<rect x="756" y="514.00" width="18.5" height="8.50" fill="#3e0052"/>
<rect x="756" y="522.00" width="18.5" height="8.50" fill="#44004e"/>
<rect x="756" y="530.00" width="18.5" height="8.50" fill="#42004c"/>
<rect x="756" y="538.00" width="18.5" height="8.50" fill="#40004a"/>
<rect x="756" y="546.00" width="18.5" height="8.50" fill="#3f0048"/>
<rect x="756" y="554.00" width="18.5" height="8.50" fill="#3d0046"/>
<rect x="756" y="562.00" width="18.5" height="8.50" fill="#3b0044"/>
<rect x="756" y="570.00" width="18.5" height="8.50" fill="#390042"/>
<rect x="756" y="578.00" width="18.5" height="8.50" fill="#380040"/>
<rect x="756" y="586.00" width="18.5" height="8.50" fill="#36003e"/>
<rect x="756" y="594.00" width="18.5" height="8.50" fill="#35003d"/>
<rect x="756" y="602.00" width="18.5" height="8.50" fill="#34003c"/>
<rect x="756" y="610.00" width="18.5" height="8.50" fill="#33003b"/>
<rect x="756" y="618.00" width="18.5" height="8.50" fill="#32003a"/>
<rect x="756" y="626.00" width="18.5" height="8.50" fill="#310039"/>
<rect x="756" y="634.00" width="18.5" height="8.50" fill="#310038"/>
<rect x="756" y="642.00" width="18.5" height="8.50" fill="#300037"/>
<rect x="756" y="650.00" width="18.5" height="8.50" fill="#2f0036"/>
<rect x="756" y="658.00" width="18.5" height="16.50" fill="#2e0035"/>
<rect x="756" y="674.00" width="18.5" height="8.50" fill="#2e0034"/>
<rect x="756" y="682.00" width="18.5" height="16.50" fill="#2d0034"/>
<rect x="756" y="698.00" width="18.5" height="8.50" fill="#2d0033"/>
<rect x="756" y="706.00" width="18.5" height="8.50" fill="#2c0033"/>
<rect x="756" y="714.00" width="18.5" height="16.50" fill="#2c0032"/>
<rect x="756" y="730.00" width="18.5" height="8.50" fill="#2b0032"/>
<rect x="756" y="738.00" width="18.5" height="80.00" fill="#050006"/>
<rect x="774" y="170.00" width="18" height="8.50" fill="#070009"/>
<rect x="774" y="178.00" width="18" height="8.50" fill="#34003b"/>
<rect x="774" y="186.00" width="18" height="16.50" fill="#34003c"/>
<rect x="774" y="202.00" width="18" height="16.50" fill="#35003d"/>
<rect x="774" y="218.00" width="18" height="24.50" fill="#36003e"/>
<rect x="774" y="242.00" width="18" height="16.50" fill="#37003f"/>
<rect x="774" y="258.00" width="18" height="8.50" fill="#380040"/>
<rect x="774" y="266.00" width="18" height="8.50" fill="#390041"/>
<rect x="774" y="274.00" width="18" height="8.50" fill="#3a0043"/>
<rect x="774" y="282.00" width="18" height="8.50" fill="#3b0044"/>
<rect x="774" y="290.00" width="18" height="8.50" fill="#3c0045"/>
<rect x="774" y="298.00" width="18" height="8.50" fill="#3d0046"/>
<rect x="774" y="306.00" width="18" height="8.50" fill="#3e0047"/>
<rect x="774" y="314.00" width="18" height="8.50" fill="#3f0048"/>
<rect x="774" y="322.00" width="18" height="8.50" fill="#400049"/>
<rect x="774" y="330.00" width="18" height="8.50" fill="#40004a"/>
<rect x="774" y="338.00" width="18" height="8.50" fill="#44004e"/>
<rect x="774" y="346.00" width="18" height="8.50" fill="#340058"/>
<rect x="774" y="354.00" width="18" height="8.50" fill="#30005d"/>
<rect x="774" y="362.00" width="18" height="8.50" fill="#2b0062"/>
<rect x="774" y="370.00" width="18" height="8.50" fill="#280067"/>
<rect x="774" y="378.00" width="18" height="8.50" fill="#24006b"/>
<rect x="774" y="386.00" width="18" height="8.50" fill="#20006f"/>
<rect x="774" y="394.00" width="18" height="8.50" fill="#1e0072"/>
<rect x="774" y="402.00" width="18" height="8.50" fill="#1c0074"/>
<rect x="774" y="410.00" width="18" height="72.50" fill="#1a0075"/>
<rect x="774" y="482.00" width="18" height="8.50" fill="#1b0074"/>
<rect x="774" y="490.00" width="18" height="8.50" fill="#1d0073"/>
<rect x="774" y="498.00" width="18" height="8.50" fill="#1f0071"/>
<rect x="774" y="506.00" width="18" height="8.50" fill="#20006f"/>
<rect x="774" y="514.00" width="18" height="8.50" fill="#23006c"/>
<rect x="774" y="522.00" width="18" height="8.50" fill="#25006a"/>
<rect x="774" y="530.00" width="18" height="8.50" fill="#270067"/>
<rect x="774" y="538.00" width="18" height="8.50" fill="#290064"/>
<rect x="774" y="546.00" width="18" height="8.50" fill="#2c0062"/>
<rect x="774" y="554.00" width="18" height="8.50" fill="#2e005f"/>
<rect x="774" y="562.00" width="18" height="8.50" fill="#30005d"/>
<rect x="774" y="570.00" width="18" height="8.50" fill="#32005a"/>
<rect x="774" y="578.00" width="18" height="8.50" fill="#340058"/>
<rect x="774" y="586.00" width="18" height="8.50" fill="#3a0054"/>
<rect x="774" y="594.00" width="18" height="8.50" fill="#410050"/>
<rect x="774" y="602.00" width="18" height="8.50" fill="#43004d"/>
<rect x="774" y="610.00" width="18" height="8.50" fill="#42004c"/>
<rect x="774" y="618.00" width="18" height="8.50" fill="#41004b"/>
<rect x="774" y="626.00" width="18" height="8.50" fill="#40004a"/>
<rect x="774" y="634.00" width="18" height="8.50" fill="#3f0048"/>
<rect x="774" y="642.00" width="18" height="8.50" fill="#3e0047"/>
<rect x="774" y="650.00" width="18" height="8.50" fill="#3d0046"/>
<rect x="774" y="658.00" width="18" height="8.50" fill="#3c0045"/>
<rect x="774" y="666.00" width="18" height="8.50" fill="#3b0044"/>
<rect x="774" y="674.00" width="18" height="8.50" fill="#3a0043"/>
<rect x="774" y="682.00" width="18" height="8.50" fill="#3a0042"/>
<rect x="774" y="690.00" width="18" height="8.50" fill="#390041"/>
<rect x="774" y="698.00" width="18" height="8.50" fill="#380040"/>
<rect x="774" y="706.00" width="18" height="8.50" fill="#37003f"/>
<rect x="774" y="714.00" width="18" height="104.00" fill="#050006"/>
</g>
<g stroke="#000" stroke-width="1" fill="none" shape-rendering="crispEdges">
<path d="M144.0 818.0 v-13 M144.0 170.0 v13"/>
<path d="M162.0 818.0 v-6.5 M162.0 170.0 v6.5"/>
<path d="M180.0 818.0 v-6.5 M180.0 170.0 v6.5"/>
<path d="M198.0 818.0 v-6.5 M198.0 170.0 v6.5"/>
<path d="M216.0 818.0 v-6.5 M216.0 170.0 v6.5"/>
<path d="M234.0 818.0 v-13 M234.0 170.0 v13"/>
<path d="M252.0 818.0 v-6.5 M252.0 170.0 v6.5"/>
<path d="M270.0 818.0 v-6.5 M270.0 170.0 v6.5"/>
<path d="M288.0 818.0 v-6.5 M288.0 170.0 v6.5"/>
<path d="M306.0 818.0 v-6.5 M306.0 170.0 v6.5"/>
<path d="M324.0 818.0 v-13 M324.0 170.0 v13"/>
<path d="M342.0 818.0 v-6.5 M342.0 170.0 v6.5"/>
<path d="M360.0 818.0 v-6.5 M360.0 170.0 v6.5"/>
<path d="M378.0 818.0 v-6.5 M378.0 170.0 v6.5"/>
<path d="M396.0 818.0 v-6.5 M396.0 170.0 v6.5"/>
<path d="M414.0 818.0 v-13 M414.0 170.0 v13"/>
<path d="M432.0 818.0 v-6.5 M432.0 170.0 v6.5"/>
<path d="M450.0 818.0 v-6.5 M450.0 170.0 v6.5"/>
<path d="M468.0 818.0 v-6.5 M468.0 170.0 v6.5"/>
<path d="M486.0 818.0 v-6.5 M486.0 170.0 v6.5"/>
<path d="M504.0 818.0 v-13 M504.0 170.0 v13"/>
<path d="M522.0 818.0 v-6.5 M522.0 170.0 v6.5"/>
<path d="M540.0 818.0 v-6.5 M540.0 170.0 v6.5"/>
<path d="M558.0 818.0 v-6.5 M558.0 170.0 v6.5"/>
<path d="M576.0 818.0 v-6.5 M576.0 170.0 v6.5"/>
<path d="M594.0 818.0 v-13 M594.0 170.0 v13"/>
<path d="M612.0 818.0 v-6.5 M612.0 170.0 v6.5"/>
<path d="M630.0 818.0 v-6.5 M630.0 170.0 v6.5"/>
<path d="M648.0 818.0 v-6.5 M648.0 170.0 v6.5"/>
<path d="M666.0 818.0 v-6.5 M666.0 170.0 v6.5"/>
<path d="M684.0 818.0 v-13 M684.0 170.0 v13"/>
<path d="M702.0 818.0 v-6.5 M702.0 170.0 v6.5"/>
<path d="M720.0 818.0 v-6.5 M720.0 170.0 v6.5"/>
<path d="M738.0 818.0 v-6.5 M738.0 170.0 v6.5"/>
<path d="M756.0 818.0 v-6.5 M756.0 170.0 v6.5"/>
<path d="M774.0 818.0 v-13 M774.0 170.0 v13"/>
<path d="M792.0 818.0 v-6.5 M792.0 170.0 v6.5"/>
<path d="M144.0 818.0 h13 M792.0 818.0 h-13"/>
<path d="M144.0 738.0 h6.5 M792.0 738.0 h-6.5"/>
<path d="M144.0 658.0 h13 M792.0 658.0 h-13"/>
<path d="M144.0 578.0 h6.5 M792.0 578.0 h-6.5"/>
<path d="M144.0 498.0 h13 M792.0 498.0 h-13"/>
<path d="M144.0 418.0 h6.5 M792.0 418.0 h-6.5"/>
<path d="M144.0 338.0 h13 M792.0 338.0 h-13"/>
<path d="M144.0 258.0 h6.5 M792.0 258.0 h-6.5"/>
<path d="M144.0 178.0 h13 M792.0 178.0 h-13"/>
</g>
<rect x="144" y="170" width="648" height="648" fill="none" stroke="#000" stroke-width="1"/>
<rect x="540" y="33" width="324" height="14.5" fill="url(#cb)"/>
<g stroke="#000" stroke-width="1" fill="none" shape-rendering="crispEdges">
<rect x="539.5" y="33.5" width="325" height="14"/>
<path d="M540.0 34 v2.5 M540.0 47 v-2.5"/>
<path d="M594.0 34 v2.5 M594.0 47 v-2.5"/>
<path d="M648.0 34 v2.5 M648.0 47 v-2.5"/>
<path d="M702.0 34 v2.5 M702.0 47 v-2.5"/>
<path d="M756.0 34 v2.5 M756.0 47 v-2.5"/>
<path d="M810.0 34 v2.5 M810.0 47 v-2.5"/>
<path d="M864.0 34 v2.5 M864.0 47 v-2.5"/>
</g>
<g>
<text x="472" y="156" text-anchor="middle">PBf20160826&#160;&#160;UT: 9.25&#160;&#160;mjd: 57626</text>
<text x="129.5" y="185" text-anchor="end">40</text>
<text x="129.5" y="345" text-anchor="end">20</text>
<text x="129.5" y="505" text-anchor="end">0</text>
<text x="129.5" y="665" text-anchor="end">-20</text>
<text x="129.5" y="825" text-anchor="end">-40</text>
<text x="144" y="852" text-anchor="middle">0</text>
<text x="234" y="852" text-anchor="middle">50</text>
<text x="324" y="852" text-anchor="middle">100</text>
<text x="414" y="852" text-anchor="middle">150</text>
<text x="504" y="852" text-anchor="middle">200</text>
<text x="594" y="852" text-anchor="middle">250</text>
<text x="684" y="852" text-anchor="middle">300</text>
<text x="774" y="852" text-anchor="middle">350</text>
<text x="50" y="417.5" text-anchor="middle">Latitude</text>
<text x="467.5" y="892.5" text-anchor="middle">Longitude</text>
<text x="702" y="20.3" text-anchor="middle">TEC</text>
<text x="540" y="82" text-anchor="middle">0</text>
<text x="594" y="82" text-anchor="middle">10</text>
<text x="648" y="82" text-anchor="middle">20</text>
<text x="702" y="82" text-anchor="middle">30</text>
<text x="756" y="82" text-anchor="middle">40</text>
<text x="810" y="82" text-anchor="middle">50</text>
<text x="864" y="82" text-anchor="middle">60</text>
</g>
</svg>
</body></html>
